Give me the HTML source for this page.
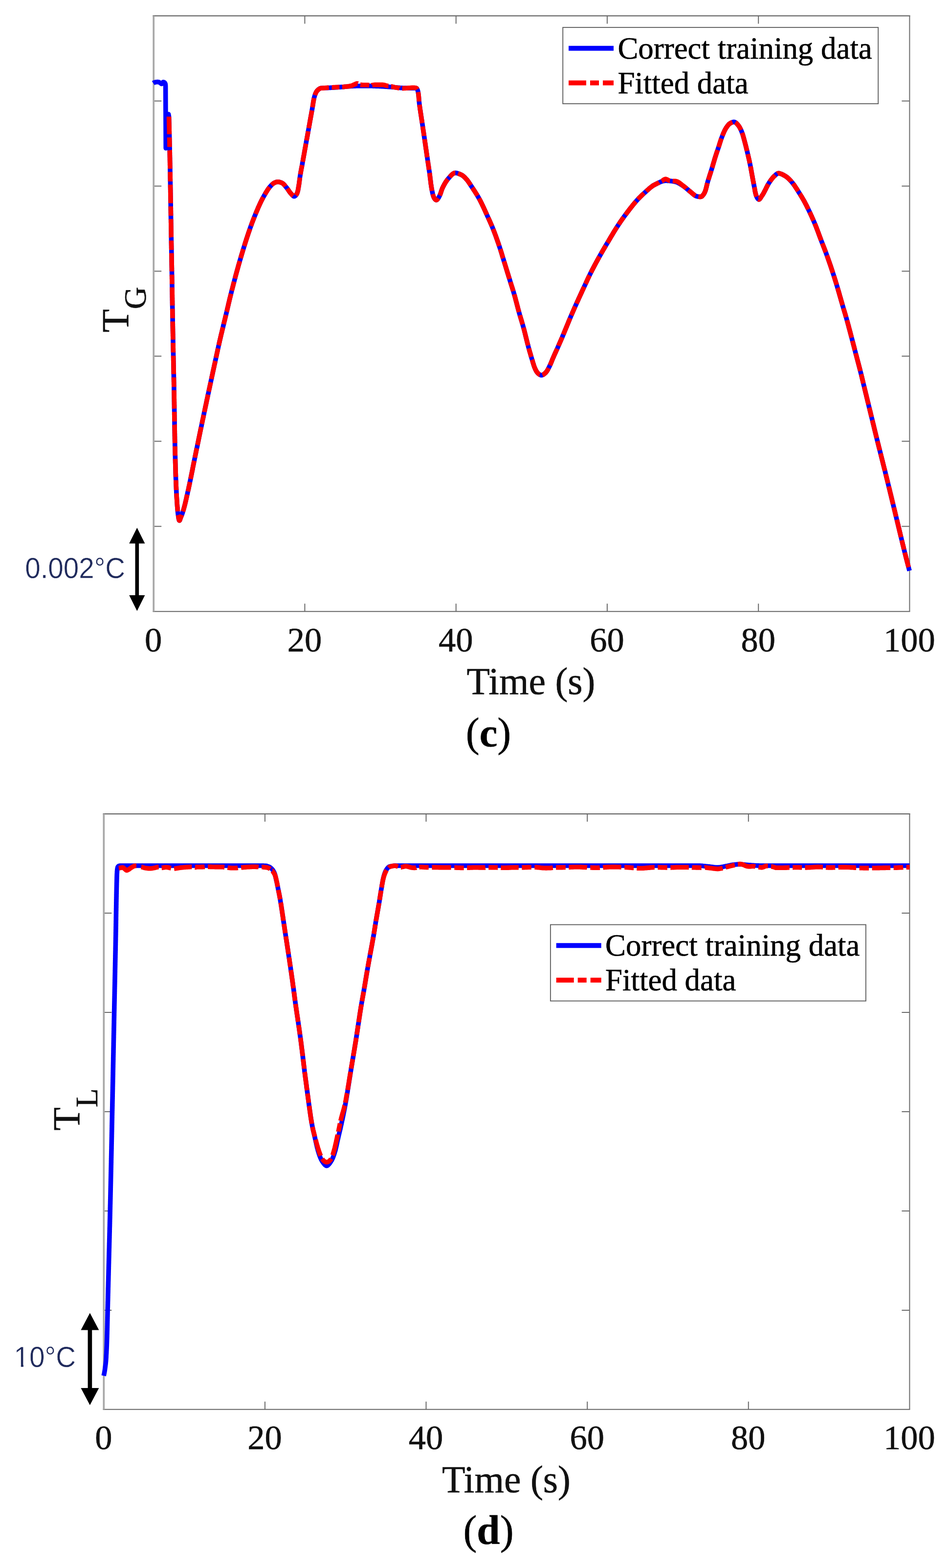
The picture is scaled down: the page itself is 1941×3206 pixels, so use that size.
<!DOCTYPE html>
<html lang="en">
<head>
<meta charset="utf-8">
<title>Figure (c) and (d): correct training data versus fitted data</title>
<style>
html,body{margin:0;padding:0;background:#fff;}
body{width:1941px;height:3206px;overflow:hidden;}
svg{display:block;}
text{font-family:"Liberation Serif","DejaVu Serif",serif;fill:#111;stroke:#111;stroke-width:0.6px;}
.tk{font-size:70.5px;}
.lb{font-size:77.8px;}
.sb{font-size:63px;}
.lg{font-size:62.9px;fill:#000;stroke:#000;}
.an{font-family:"Liberation Sans","DejaVu Sans",sans-serif;font-size:59px;fill:#1f2a5c;stroke:#fff;stroke-width:0.5px;paint-order:fill stroke;}
.cp{font-size:84px;fill:#000;}
.cb{font-weight:bold;font-size:82.5px;}
</style>
</head>
<body>
<svg width="1941" height="3206" viewBox="0 0 1941 3206">
<rect width="1941" height="3206" fill="#fff"/>
<g id="chart-c">
<path d="M623.4 1250.3v-16M623.4 32.4v16M932.7 1250.3v-16M932.7 32.4v16M1241.9 1250.3v-16M1241.9 32.4v16M1551.2 1250.3v-16M1551.2 32.4v16M314.2 1076.3h16M1860.4 1076.3h-16M314.2 902.3h16M1860.4 902.3h-16M314.2 728.3h16M1860.4 728.3h-16M314.2 554.4h16M1860.4 554.4h-16M314.2 380.4h16M1860.4 380.4h-16M314.2 206.4h16M1860.4 206.4h-16" stroke="#6a6a6a" stroke-width="2" fill="none"/>
<path d="M312.4 32.4H1861.6000000000001M312.4 1250.3H1861.4" stroke="#686868" stroke-width="2.1" fill="none"/>
<path d="M314.2 32.4V1250.3" stroke="#a8a8a8" stroke-width="3.7" fill="none"/>
<path d="M1860.4 32.4V1250.3" stroke="#727272" stroke-width="2.1" fill="none"/>
<path d="M313.4 170.0L314.3 169.4L315.3 168.9L316.2 168.5L317.2 168.2L318.2 168.0L319.3 167.8L320.3 167.7L321.4 167.6L322.4 167.5L323.4 167.6L324.5 167.8L325.5 168.2L326.4 168.7L327.4 169.2L328.3 169.9L329.2 170.7L330.0 171.3L330.8 171.5L331.6 171.0L332.2 170.0L332.8 168.8L333.5 168.0L334.4 167.8L335.5 168.2L336.5 168.7L337.0 169.3L337.5 170.0L337.8 170.9L338.2 171.9L338.4 173.0L338.5 174.2L338.6 175.6L339.2 303L344.6 233.5L345.5 238.6L345.5 240.1L345.6 241.6L345.6 243.1L345.7 244.6L345.7 246.1L345.7 247.6L345.8 249.1L345.8 250.6L345.9 252.1L345.9 253.6L345.9 255.1L346.0 256.6L346.0 258.1L346.1 259.6L346.1 261.1L346.1 262.6L346.2 264.1L346.2 265.6L346.2 267.1L346.3 268.6L346.3 270.1L346.3 271.6L346.4 273.1L346.4 274.6L346.5 276.1L346.5 277.6L346.5 279.1L346.6 280.6L346.6 282.1L346.6 283.6L346.7 285.1L346.7 286.6L346.7 288.1L346.8 289.6L346.8 291.1L346.8 292.6L346.9 294.1L346.9 295.6L346.9 297.1L347.0 298.6L347.0 300.1L347.0 301.6L347.1 303.1L347.1 304.6L347.1 306.1L347.2 307.6L347.2 309.1L347.2 310.6L347.3 312.1L347.3 313.6L347.3 315.1L347.3 316.6L347.4 318.1L347.4 319.6L347.4 321.1L347.5 322.6L347.5 324.1L347.5 325.6L347.5 327.1L347.6 328.6L347.6 330.1L347.6 331.6L347.7 333.1L347.7 334.6L347.7 336.1L347.7 337.6L347.8 339.1L347.8 340.6L347.8 342.1L347.9 343.6L347.9 345.1L347.9 346.6L347.9 348.1L348.0 349.6L348.0 351.1L348.0 352.6L348.0 354.1L348.1 355.6L348.1 357.1L348.1 358.6L348.1 360.1L348.2 361.6L348.2 363.1L348.2 364.6L348.3 366.1L348.3 367.6L348.3 369.1L348.3 370.6L348.4 372.1L348.4 373.6L348.4 375.1L348.4 376.6L348.5 378.1L348.5 379.6L348.5 381.1L348.5 382.6L348.6 384.1L348.6 385.6L348.6 387.1L348.7 388.6L348.7 390.1L348.7 391.6L348.7 393.2L348.8 394.7L348.8 396.2L348.8 397.7L348.8 399.2L348.9 400.7L348.9 402.2L348.9 403.7L348.9 405.2L349.0 406.7L349.0 408.2L349.0 409.7L349.0 411.2L349.1 412.7L349.1 414.2L349.1 415.7L349.1 417.2L349.2 418.7L349.2 420.2L349.2 421.7L349.2 423.2L349.3 424.7L349.3 426.2L349.3 427.7L349.3 429.2L349.4 430.7L349.4 432.2L349.4 433.7L349.4 435.2L349.5 436.7L349.5 438.2L349.5 439.7L349.5 441.2L349.5 442.7L349.6 444.2L349.6 445.7L349.6 447.2L349.6 448.7L349.7 450.2L349.7 451.7L349.7 453.2L349.7 454.7L349.8 456.2L349.8 457.7L349.8 459.2L349.8 460.7L349.9 462.2L349.9 463.7L349.9 465.2L349.9 466.7L350.0 468.2L350.0 469.7L350.0 471.2L350.0 472.7L350.1 474.2L350.1 475.7L350.1 477.2L350.1 478.7L350.2 480.2L350.2 481.7L350.2 483.2L350.2 484.7L350.3 486.2L350.3 487.7L350.3 489.2L350.3 490.7L350.4 492.2L350.4 493.7L350.4 495.2L350.4 496.7L350.5 498.2L350.5 499.7L350.5 501.2L350.6 502.7L350.6 504.2L350.6 505.7L350.6 507.2L350.7 508.7L350.7 510.2L350.7 511.7L350.7 513.2L350.8 514.7L350.8 516.2L350.8 517.7L350.8 519.2L350.9 520.7L350.9 522.2L350.9 523.7L351.0 525.2L351.0 526.7L351.0 528.2L351.0 529.7L351.1 531.2L351.1 532.7L351.1 534.2L351.1 535.7L351.2 537.2L351.2 538.7L351.2 540.2L351.2 541.7L351.3 543.2L351.3 544.7L351.3 546.2L351.4 547.7L351.4 549.2L351.4 550.7L351.4 552.2L351.5 553.7L351.5 555.2L351.5 556.7L351.5 558.2L351.6 559.7L351.6 561.2L351.6 562.7L351.6 564.2L351.7 565.7L351.7 567.2L351.7 568.7L351.7 570.2L351.8 571.7L351.8 573.2L351.8 574.7L351.8 576.2L351.9 577.7L351.9 579.2L351.9 580.7L351.9 582.2L352.0 583.7L352.0 585.2L352.0 586.7L352.0 588.2L352.1 589.7L352.1 591.2L352.1 592.7L352.1 594.2L352.1 595.7L352.2 597.2L352.2 598.7L352.2 600.2L352.2 601.7L352.3 603.2L352.3 604.7L352.3 606.2L352.3 607.7L352.4 609.2L352.4 610.7L352.4 612.2L352.4 613.7L352.5 615.2L352.5 616.7L352.5 618.2L352.5 619.7L352.6 621.2L352.6 622.7L352.6 624.2L352.6 625.7L352.6 627.2L352.7 628.7L352.7 630.2L352.7 631.7L352.7 633.2L352.8 634.7L352.8 636.2L352.8 637.8L352.8 639.3L352.9 640.8L352.9 642.3L352.9 643.8L353.0 645.3L353.0 646.8L353.0 648.3L353.0 649.8L353.1 651.3L353.1 652.8L353.1 654.3L353.1 655.8L353.2 657.3L353.2 658.8L353.2 660.3L353.3 661.8L353.3 663.3L353.3 664.8L353.3 666.3L353.4 667.8L353.4 669.3L353.4 670.8L353.5 672.3L353.5 673.8L353.5 675.3L353.5 676.8L353.6 678.3L353.6 679.8L353.6 681.3L353.7 682.8L353.7 684.3L353.7 685.8L353.7 687.3L353.8 688.8L353.8 690.3L353.8 691.8L353.9 693.3L353.9 694.8L353.9 696.3L354.0 697.8L354.0 699.3L354.0 700.8L354.0 702.3L354.1 703.8L354.1 705.3L354.1 706.8L354.2 708.3L354.2 709.8L354.2 711.3L354.3 712.8L354.3 714.3L354.3 715.8L354.3 717.3L354.4 718.8L354.4 720.3L354.4 721.8L354.5 723.3L354.5 724.8L354.5 726.3L354.6 727.8L354.6 729.3L354.6 730.8L354.7 732.3L354.7 733.8L354.7 735.3L354.7 736.8L354.8 738.3L354.8 739.8L354.8 741.3L354.9 742.8L354.9 744.3L354.9 745.8L355.0 747.3L355.0 748.8L355.0 750.3L355.1 751.8L355.1 753.3L355.1 754.8L355.2 756.3L355.2 757.8L355.2 759.3L355.2 760.8L355.3 762.3L355.3 763.8L355.3 765.3L355.4 766.8L355.4 768.3L355.4 769.8L355.5 771.3L355.5 772.8L355.5 774.3L355.5 775.8L355.6 777.3L355.6 778.8L355.6 780.3L355.7 781.8L355.7 783.3L355.7 784.8L355.7 786.3L355.8 787.8L355.8 789.3L355.8 790.8L355.9 792.3L355.9 793.8L355.9 795.3L355.9 796.8L356.0 798.3L356.0 799.8L356.0 801.3L356.0 802.8L356.1 804.3L356.1 805.8L356.1 807.3L356.2 808.8L356.2 810.3L356.2 811.8L356.2 813.3L356.2 814.8L356.3 816.3L356.3 817.8L356.3 819.3L356.3 820.8L356.4 822.3L356.4 823.8L356.4 825.3L356.4 826.8L356.5 828.3L356.5 829.8L356.5 831.3L356.5 832.8L356.5 834.3L356.6 835.8L356.6 837.3L356.6 838.8L356.6 840.3L356.7 841.8L356.7 843.3L356.7 844.8L356.7 846.3L356.7 847.8L356.8 849.3L356.8 850.8L356.8 852.3L356.8 853.8L356.9 855.3L356.9 856.8L356.9 858.3L356.9 859.8L356.9 861.3L357.0 862.8L357.0 864.3L357.0 865.8L357.0 867.3L357.1 868.8L357.1 870.3L357.1 871.8L357.1 873.3L357.2 874.8L357.2 876.3L357.2 877.8L357.2 879.3L357.3 880.8L357.3 882.3L357.3 883.8L357.3 885.3L357.4 886.8L357.4 888.3L357.4 889.8L357.4 891.3L357.5 892.8L357.5 894.3L357.5 895.8L357.5 897.3L357.6 898.9L357.6 900.4L357.6 901.9L357.7 903.4L357.7 904.9L357.7 906.4L357.8 907.9L357.8 909.4L357.8 910.9L357.9 912.4L357.9 913.9L357.9 915.4L358.0 916.9L358.0 918.4L358.0 919.9L358.1 921.4L358.1 922.9L358.1 924.4L358.2 925.9L358.2 927.4L358.2 928.9L358.3 930.4L358.3 931.9L358.3 933.4L358.4 934.9L358.4 936.4L358.4 937.9L358.5 939.4L358.5 940.9L358.6 942.4L358.6 943.9L358.6 945.4L358.7 946.9L358.7 948.4L358.8 949.9L358.8 951.4L358.8 952.9L358.9 954.4L358.9 955.9L359.0 957.4L359.0 958.9L359.1 960.4L359.1 961.9L359.2 963.4L359.2 964.9L359.2 966.4L359.3 967.9L359.3 969.4L359.4 970.9L359.4 972.4L359.5 973.9L359.5 975.4L359.6 976.9L359.6 978.4L359.7 979.9L359.8 981.4L359.8 982.9L359.9 984.4L359.9 985.9L360.0 987.4L360.0 988.9L360.1 990.4L360.2 991.9L360.2 993.4L360.3 994.9L360.4 996.4L360.4 997.9L360.5 999.4L360.6 1000.9L360.6 1002.4L360.7 1003.9L360.8 1005.4L360.8 1006.9L360.9 1008.4L361.0 1009.9L361.1 1011.4L361.1 1012.9L361.2 1014.4L361.3 1015.8L361.4 1017.3L361.5 1018.8L361.6 1020.3L361.7 1021.8L361.8 1023.3L361.9 1024.8L362.0 1026.3L362.1 1027.8L362.2 1029.3L362.3 1030.8L362.4 1032.3L362.5 1033.8L362.6 1035.3L362.8 1036.8L362.9 1038.3L363.0 1039.8L363.1 1041.3L363.3 1042.8L363.4 1044.3L363.5 1045.8L363.7 1047.3L363.8 1048.8L364.0 1050.3L364.2 1051.8L364.4 1053.2L364.6 1054.8L364.9 1056.5L365.2 1058.5L365.5 1060.4L365.9 1062.1L366.3 1063.5L366.7 1064.3L367.1 1064.4L367.7 1063.6L368.3 1062.1L368.9 1060.3L369.5 1058.6L370.0 1057.2L370.6 1055.8L371.2 1054.4L371.8 1053.0L372.3 1051.6L372.8 1050.2L373.3 1048.8L373.8 1047.3L374.2 1045.9L374.6 1044.5L375.1 1043.1L375.5 1041.6L375.9 1040.2L376.3 1038.7L376.7 1037.3L377.1 1035.8L377.5 1034.4L377.8 1032.9L378.2 1031.5L378.6 1030.0L378.9 1028.6L379.3 1027.1L379.6 1025.6L380.0 1024.2L380.3 1022.7L380.6 1021.2L381.0 1019.8L381.3 1018.3L381.6 1016.8L382.0 1015.4L382.3 1013.9L382.6 1012.4L383.0 1011.0L383.3 1009.5L383.6 1008.0L383.9 1006.6L384.3 1005.1L384.6 1003.6L384.9 1002.2L385.3 1000.7L385.6 999.2L385.9 997.8L386.2 996.3L386.5 994.8L386.9 993.4L387.2 991.9L387.5 990.4L387.8 989.0L388.1 987.5L388.4 986.0L388.7 984.6L389.0 983.1L389.3 981.6L389.6 980.2L389.9 978.7L390.2 977.2L390.5 975.7L390.8 974.3L391.1 972.8L391.4 971.3L391.7 969.9L392.0 968.4L392.3 966.9L392.6 965.4L392.9 964.0L393.2 962.5L393.5 961.0L393.8 959.5L394.1 958.1L394.3 956.6L394.6 955.1L394.9 953.7L395.2 952.2L395.5 950.7L395.8 949.2L396.1 947.8L396.4 946.3L396.7 944.8L397.0 943.4L397.3 941.9L397.6 940.4L397.9 938.9L398.2 937.5L398.5 936.0L398.8 934.5L399.1 933.1L399.4 931.6L399.7 930.1L400.0 928.7L400.3 927.2L400.6 925.7L400.9 924.2L401.2 922.8L401.5 921.3L401.8 919.8L402.1 918.4L402.4 916.9L402.8 915.4L403.1 914.0L403.4 912.5L403.7 911.0L404.0 909.5L404.3 908.1L404.6 906.6L404.9 905.1L405.2 903.7L405.5 902.2L405.8 900.7L406.1 899.3L406.4 897.8L406.7 896.3L407.0 894.8L407.3 893.4L407.6 891.9L407.9 890.4L408.2 889.0L408.5 887.5L408.8 886.0L409.1 884.6L409.4 883.1L409.7 881.6L410.0 880.2L410.3 878.7L410.6 877.2L410.9 875.7L411.3 874.3L411.6 872.8L411.9 871.3L412.2 869.9L412.5 868.4L412.8 866.9L413.1 865.5L413.4 864.0L413.7 862.5L414.0 861.1L414.3 859.6L414.6 858.1L414.9 856.6L415.3 855.2L415.6 853.7L415.9 852.2L416.2 850.8L416.5 849.3L416.8 847.8L417.1 846.4L417.4 844.9L417.7 843.4L418.0 842.0L418.4 840.5L418.7 839.0L419.0 837.6L419.3 836.1L419.6 834.6L419.9 833.2L420.2 831.7L420.5 830.2L420.8 828.7L421.2 827.3L421.5 825.8L421.8 824.3L422.1 822.9L422.4 821.4L422.7 819.9L423.0 818.5L423.3 817.0L423.7 815.5L424.0 814.1L424.3 812.6L424.6 811.1L424.9 809.7L425.2 808.2L425.5 806.7L425.8 805.3L426.2 803.8L426.5 802.3L426.8 800.9L427.1 799.4L427.4 797.9L427.7 796.5L428.0 795.0L428.4 793.5L428.7 792.1L429.0 790.6L429.3 789.1L429.6 787.7L429.9 786.2L430.3 784.7L430.6 783.3L430.9 781.8L431.2 780.3L431.5 778.8L431.8 777.4L432.2 775.9L432.5 774.4L432.8 773.0L433.1 771.5L433.4 770.0L433.7 768.6L434.1 767.1L434.4 765.6L434.7 764.2L435.0 762.7L435.3 761.2L435.6 759.8L436.0 758.3L436.3 756.8L436.6 755.4L436.9 753.9L437.2 752.4L437.6 751.0L437.9 749.5L438.2 748.0L438.5 746.6L438.8 745.1L439.2 743.6L439.5 742.2L439.8 740.7L440.1 739.2L440.4 737.8L440.7 736.3L441.1 734.8L441.4 733.4L441.7 731.9L442.0 730.4L442.3 729.0L442.7 727.5L443.0 726.0L443.3 724.6L443.6 723.1L443.9 721.6L444.2 720.2L444.6 718.7L444.9 717.2L445.2 715.8L445.5 714.3L445.8 712.8L446.2 711.4L446.5 709.9L446.8 708.4L447.1 707.0L447.5 705.5L447.8 704.1L448.1 702.6L448.4 701.1L448.8 699.7L449.1 698.2L449.4 696.7L449.8 695.3L450.1 693.8L450.5 692.4L450.8 690.9L451.1 689.4L451.5 688.0L451.8 686.5L452.2 685.0L452.5 683.6L452.9 682.1L453.2 680.7L453.6 679.2L453.9 677.7L454.3 676.3L454.6 674.8L455.0 673.4L455.3 671.9L455.7 670.4L456.0 669.0L456.4 667.5L456.7 666.1L457.1 664.6L457.4 663.2L457.8 661.7L458.1 660.2L458.5 658.8L458.8 657.3L459.2 655.9L459.6 654.4L459.9 652.9L460.3 651.5L460.6 650.0L461.0 648.6L461.3 647.1L461.7 645.6L462.0 644.2L462.4 642.7L462.7 641.3L463.1 639.8L463.4 638.4L463.8 636.9L464.1 635.4L464.5 634.0L464.8 632.5L465.1 631.0L465.5 629.6L465.8 628.1L466.2 626.7L466.5 625.2L466.9 623.7L467.2 622.3L467.5 620.8L467.9 619.4L468.2 617.9L468.6 616.4L468.9 615.0L469.3 613.5L469.6 612.1L470.0 610.6L470.3 609.1L470.7 607.7L471.1 606.2L471.4 604.8L471.8 603.3L472.1 601.9L472.5 600.4L472.9 598.9L473.2 597.5L473.6 596.0L474.0 594.6L474.3 593.1L474.7 591.7L475.1 590.2L475.5 588.8L475.8 587.3L476.2 585.9L476.6 584.4L477.0 583.0L477.3 581.5L477.7 580.0L478.1 578.6L478.5 577.1L478.9 575.7L479.2 574.2L479.6 572.8L480.0 571.3L480.4 569.9L480.8 568.4L481.2 567.0L481.5 565.5L481.9 564.1L482.3 562.6L482.7 561.2L483.1 559.7L483.5 558.3L483.9 556.8L484.3 555.4L484.7 553.9L485.1 552.5L485.5 551.0L485.9 549.6L486.3 548.2L486.7 546.7L487.1 545.3L487.5 543.8L487.9 542.4L488.3 540.9L488.7 539.5L489.2 538.0L489.6 536.6L490.0 535.2L490.4 533.7L490.8 532.3L491.2 530.8L491.7 529.4L492.1 528.0L492.5 526.5L492.9 525.1L493.4 523.6L493.8 522.2L494.2 520.8L494.6 519.3L495.1 517.9L495.5 516.5L495.9 515.0L496.4 513.6L496.8 512.1L497.2 510.7L497.7 509.3L498.1 507.8L498.6 506.4L499.0 505.0L499.4 503.5L499.9 502.1L500.3 500.7L500.8 499.2L501.2 497.8L501.7 496.4L502.1 494.9L502.6 493.5L503.1 492.1L503.5 490.6L504.0 489.2L504.4 487.8L504.9 486.4L505.4 484.9L505.8 483.5L506.3 482.1L506.8 480.7L507.3 479.2L507.7 477.8L508.2 476.4L508.7 475.0L509.2 473.5L509.7 472.1L510.2 470.7L510.7 469.3L511.1 467.9L511.6 466.5L512.1 465.0L512.6 463.6L513.1 462.2L513.7 460.8L514.2 459.4L514.7 458.0L515.2 456.6L515.7 455.2L516.3 453.8L516.8 452.4L517.3 451.0L517.9 449.6L518.4 448.2L519.0 446.8L519.5 445.4L520.1 444.0L520.6 442.6L521.2 441.2L521.8 439.8L522.3 438.4L522.9 437.0L523.5 435.6L524.0 434.2L524.6 432.9L525.2 431.5L525.8 430.1L526.4 428.7L527.0 427.3L527.5 425.9L528.1 424.6L528.7 423.2L529.4 421.8L530.0 420.4L530.6 419.1L531.2 417.7L531.8 416.4L532.5 415.0L533.1 413.6L533.8 412.3L534.4 411.0L535.1 409.6L535.8 408.3L536.5 406.9L537.2 405.6L537.9 404.3L538.6 403.0L539.3 401.6L540.1 400.4L540.8 399.1L541.6 397.7L542.4 396.4L543.1 395.1L543.9 393.8L544.7 392.5L545.5 391.2L546.3 389.9L547.1 388.6L547.9 387.4L548.8 386.2L549.7 384.9L550.6 383.7L551.5 382.6L552.4 381.5L553.4 380.4L554.4 379.3L555.5 378.2L556.6 377.1L557.8 376.1L559.0 375.1L560.2 374.3L561.5 373.7L562.8 373.1L564.3 372.5L565.8 372.1L567.3 371.8L568.7 371.8L570.2 372.0L571.8 372.3L573.3 372.7L574.7 373.2L576.0 373.7L577.3 374.3L578.4 375.1L579.6 376.0L580.6 377.1L581.7 378.2L582.7 379.5L583.7 380.7L584.7 381.9L585.7 383.1L586.6 384.3L587.6 385.4L588.4 386.7L589.3 387.9L590.1 389.2L591.0 390.4L591.8 391.7L592.7 392.9L593.6 394.1L594.6 395.2L595.6 396.3L596.7 397.6L597.9 398.9L599.1 400.1L600.2 401.0L601.4 401.5L602.5 401.4L603.7 400.7L604.9 399.5L606.0 398.1L606.9 396.7L607.6 395.4L608.0 394.1L608.5 392.7L608.9 391.3L609.2 389.9L609.6 388.4L609.8 386.8L610.1 385.3L610.4 383.8L610.6 382.2L610.9 380.7L611.1 379.2L611.4 377.8L611.6 376.3L611.8 374.8L612.0 373.3L612.2 371.8L612.4 370.3L612.6 368.8L612.8 367.3L613.0 365.9L613.2 364.4L613.4 362.9L613.6 361.4L613.8 359.9L614.1 358.4L614.3 357.0L614.5 355.5L614.8 354.0L615.1 352.5L615.3 351.0L615.6 349.6L615.9 348.1L616.2 346.6L616.4 345.1L616.7 343.7L617.0 342.2L617.3 340.7L617.6 339.2L617.8 337.8L618.1 336.3L618.4 334.8L618.6 333.3L618.9 331.9L619.2 330.4L619.4 328.9L619.7 327.4L620.0 325.9L620.2 324.5L620.5 323.0L620.8 321.5L621.0 320.0L621.3 318.6L621.6 317.1L621.8 315.6L622.1 314.1L622.4 312.7L622.6 311.2L622.9 309.7L623.2 308.2L623.4 306.7L623.7 305.3L624.0 303.8L624.2 302.3L624.5 300.8L624.8 299.4L625.0 297.9L625.3 296.4L625.5 294.9L625.8 293.4L626.1 292.0L626.3 290.5L626.6 289.0L626.9 287.5L627.1 286.1L627.4 284.6L627.7 283.1L628.0 281.6L628.2 280.2L628.5 278.7L628.8 277.2L629.0 275.7L629.3 274.3L629.6 272.8L629.8 271.3L630.1 269.8L630.4 268.3L630.6 266.9L630.9 265.4L631.2 263.9L631.4 262.4L631.7 261.0L632.0 259.5L632.2 258.0L632.5 256.5L632.8 255.0L633.0 253.6L633.3 252.1L633.5 250.6L633.8 249.1L634.1 247.7L634.3 246.2L634.6 244.7L634.9 243.2L635.1 241.8L635.4 240.3L635.7 238.8L635.9 237.3L636.2 235.8L636.5 234.4L636.7 232.9L637.0 231.4L637.3 229.9L637.5 228.5L637.8 227.0L638.0 225.5L638.3 224.0L638.6 222.6L638.8 221.1L639.1 219.6L639.3 218.1L639.6 216.6L639.8 215.1L640.0 213.6L640.3 212.1L640.5 210.6L640.7 209.1L641.0 207.6L641.2 206.2L641.5 204.7L641.8 203.2L642.1 201.8L642.4 200.3L642.8 198.9L643.2 197.5L643.6 196.0L644.1 194.5L644.6 193.1L645.2 191.6L645.8 190.2L646.5 188.8L647.2 187.5L648.0 186.3L648.9 185.3L649.9 184.2L651.1 183.1L652.3 182.1L653.7 181.3L655.1 180.6L656.5 180.3L657.8 180.2L659.2 180.1L660.7 180.0L662.1 179.9L663.6 179.8L665.1 179.8L666.7 179.7L668.2 179.7L669.8 179.6L671.3 179.6L672.9 179.5L674.4 179.5L675.9 179.4L677.4 179.3L678.9 179.2L680.4 179.2L681.9 179.1L683.4 179.0L684.9 178.9L686.4 178.8L687.9 178.7L689.4 178.6L690.9 178.5L692.4 178.3L693.9 178.2L695.4 178.1L696.9 178.0L698.4 177.9L699.9 177.8L701.4 177.7L702.9 177.6L704.4 177.5L705.9 177.3L707.4 177.2L708.9 177.1L710.4 176.9L711.9 176.8L713.4 176.7L714.9 176.5L716.4 176.4L717.9 176.3L719.4 176.2L720.9 176.1L722.4 176.0L723.9 176.0L725.4 175.9L726.9 175.9L728.4 175.8L729.9 175.8L731.4 175.8L732.9 175.8L734.4 175.7L735.9 175.7L737.4 175.7L738.9 175.7L740.4 175.6L741.9 175.6L743.4 175.6L744.9 175.6L746.4 175.6L747.9 175.6L749.4 175.6L750.9 175.6L752.4 175.6L753.9 175.6L755.4 175.7L756.9 175.7L758.4 175.7L759.9 175.8L761.4 175.8L762.9 175.9L764.4 175.9L765.9 176.0L767.4 176.0L768.9 176.1L770.4 176.1L771.9 176.2L773.4 176.2L774.9 176.3L776.4 176.4L777.9 176.4L779.4 176.5L780.9 176.6L782.4 176.7L783.9 176.8L785.4 176.9L786.9 177.0L788.4 177.1L789.9 177.2L791.3 177.3L792.8 177.4L794.3 177.5L795.8 177.6L797.3 177.7L798.8 177.8L800.3 177.9L801.8 178.0L803.3 178.2L804.8 178.3L806.3 178.4L807.8 178.6L809.3 178.7L810.8 178.9L812.3 179.0L813.8 179.2L815.3 179.3L816.8 179.4L818.3 179.6L819.8 179.7L821.3 179.8L822.8 179.9L824.3 180.0L825.8 180.0L827.3 180.1L828.8 180.1L830.3 180.1L831.8 180.2L833.3 180.2L834.8 180.2L836.3 180.2L837.8 180.3L839.3 180.3L840.8 180.3L842.3 180.3L843.8 180.3L845.3 180.3L847.0 180.2L848.6 180.1L850.0 180.0L851.1 180.0L852.1 180.6L853.0 181.9L853.8 183.5L854.4 185.2L854.9 186.8L855.2 188.2L855.4 189.6L855.6 191.1L855.8 192.5L856.0 194.0L856.2 195.5L856.3 197.0L856.5 198.5L856.6 200.0L856.7 201.6L856.8 203.1L856.9 204.6L857.1 206.1L857.2 207.7L857.4 209.2L857.5 210.7L857.7 212.2L857.9 213.7L858.1 215.1L858.3 216.6L858.5 218.1L858.7 219.6L858.9 221.1L859.1 222.6L859.3 224.1L859.6 225.5L859.8 227.0L860.0 228.5L860.2 230.0L860.5 231.5L860.7 233.0L860.9 234.4L861.1 235.9L861.4 237.4L861.6 238.9L861.8 240.4L862.0 241.9L862.3 243.3L862.5 244.8L862.7 246.3L863.0 247.8L863.2 249.3L863.4 250.8L863.6 252.3L863.9 253.7L864.1 255.2L864.3 256.7L864.5 258.2L864.7 259.7L864.9 261.2L865.2 262.6L865.4 264.1L865.6 265.6L865.8 267.1L866.0 268.6L866.3 270.1L866.5 271.6L866.7 273.0L866.9 274.5L867.1 276.0L867.4 277.5L867.6 279.0L867.8 280.5L868.0 281.9L868.2 283.4L868.4 284.9L868.7 286.4L868.9 287.9L869.1 289.4L869.3 290.9L869.5 292.3L869.7 293.8L870.0 295.3L870.2 296.8L870.4 298.3L870.6 299.8L870.8 301.3L871.0 302.7L871.2 304.2L871.5 305.7L871.7 307.2L871.9 308.7L872.1 310.2L872.3 311.7L872.5 313.1L872.8 314.6L873.0 316.1L873.2 317.6L873.4 319.1L873.6 320.6L873.9 322.0L874.1 323.5L874.3 325.0L874.5 326.5L874.7 328.0L874.9 329.5L875.2 331.0L875.4 332.4L875.6 333.9L875.8 335.4L876.1 336.9L876.3 338.4L876.5 339.9L876.7 341.3L876.9 342.8L877.2 344.3L877.4 345.8L877.6 347.3L877.8 348.8L878.0 350.3L878.3 351.7L878.5 353.2L878.7 354.7L878.9 356.2L879.1 357.7L879.3 359.2L879.5 360.7L879.6 362.2L879.8 363.7L880.0 365.2L880.2 366.7L880.4 368.2L880.6 369.7L880.8 371.2L880.9 372.7L881.1 374.2L881.3 375.6L881.5 377.1L881.8 378.6L882.0 380.1L882.2 381.6L882.4 383.1L882.7 384.5L882.9 386.0L883.2 387.5L883.5 389.0L883.7 390.4L884.0 391.9L884.4 393.3L884.7 394.8L885.0 396.3L885.4 397.8L885.8 399.3L886.3 400.8L886.8 402.2L887.4 403.6L888.0 404.9L888.8 406.0L889.8 407.4L891.1 408.5L892.3 409.0L893.4 408.7L894.4 407.8L895.5 406.5L896.5 405.0L897.4 403.6L898.1 402.3L898.8 401.0L899.4 399.7L900.0 398.3L900.6 396.9L901.1 395.5L901.6 394.1L902.1 392.6L902.5 391.1L903.0 389.7L903.5 388.2L904.0 386.8L904.6 385.4L905.2 384.0L905.8 382.7L906.5 381.4L907.2 380.0L907.9 378.7L908.6 377.4L909.4 376.0L910.1 374.7L910.9 373.4L911.8 372.1L912.6 370.8L913.5 369.6L914.3 368.4L915.2 367.2L916.2 366.0L917.1 364.9L918.1 363.8L919.1 362.7L920.1 361.5L921.2 360.2L922.3 359.0L923.5 357.7L924.7 356.6L925.9 355.6L927.2 354.7L928.4 354.1L929.7 353.7L931.0 353.5L932.3 353.6L933.7 353.8L935.2 354.1L936.7 354.6L938.2 355.1L939.7 355.7L941.2 356.3L942.5 356.9L943.8 357.5L945.1 358.2L946.3 359.1L947.5 360.0L948.7 361.0L949.8 362.0L950.9 363.1L952.0 364.3L953.0 365.4L954.0 366.5L955.0 367.6L955.9 368.7L956.8 369.9L957.7 371.1L958.6 372.4L959.4 373.6L960.3 374.9L961.1 376.1L961.9 377.4L962.7 378.7L963.5 380.0L964.4 381.2L965.2 382.5L966.0 383.7L966.9 385.0L967.7 386.2L968.5 387.5L969.3 388.7L970.2 390.0L971.0 391.2L971.8 392.5L972.6 393.8L973.4 395.1L974.2 396.3L975.0 397.6L975.8 398.9L976.6 400.2L977.3 401.5L978.1 402.8L978.8 404.1L979.6 405.4L980.3 406.7L981.0 408.0L981.7 409.3L982.4 410.6L983.1 412.0L983.7 413.3L984.4 414.6L985.1 416.0L985.7 417.3L986.4 418.7L987.0 420.0L987.7 421.4L988.3 422.7L989.0 424.1L989.6 425.5L990.2 426.8L990.8 428.2L991.5 429.6L992.1 431.0L992.7 432.3L993.3 433.7L993.9 435.1L994.6 436.4L995.2 437.8L995.8 439.2L996.4 440.5L997.0 441.9L997.7 443.3L998.3 444.6L998.9 446.0L999.5 447.4L1000.2 448.7L1000.8 450.1L1001.4 451.5L1002.0 452.8L1002.6 454.2L1003.2 455.6L1003.8 457.0L1004.4 458.3L1005.0 459.7L1005.6 461.1L1006.2 462.5L1006.8 463.9L1007.3 465.2L1007.9 466.6L1008.4 468.0L1009.0 469.4L1009.5 470.8L1010.1 472.2L1010.6 473.6L1011.2 475.0L1011.7 476.4L1012.2 477.8L1012.7 479.2L1013.3 480.6L1013.8 482.1L1014.3 483.5L1014.8 484.9L1015.3 486.3L1015.8 487.7L1016.3 489.1L1016.8 490.5L1017.3 492.0L1017.8 493.4L1018.3 494.8L1018.8 496.2L1019.3 497.6L1019.8 499.1L1020.2 500.5L1020.7 501.9L1021.2 503.3L1021.7 504.7L1022.2 506.2L1022.6 507.6L1023.1 509.0L1023.6 510.4L1024.0 511.9L1024.5 513.3L1024.9 514.7L1025.4 516.2L1025.8 517.6L1026.2 519.0L1026.7 520.5L1027.1 521.9L1027.5 523.4L1028.0 524.8L1028.4 526.2L1028.8 527.7L1029.3 529.1L1029.7 530.5L1030.2 532.0L1030.6 533.4L1031.1 534.8L1031.5 536.3L1031.9 537.7L1032.4 539.1L1032.8 540.6L1033.3 542.0L1033.7 543.4L1034.2 544.9L1034.6 546.3L1035.0 547.7L1035.5 549.2L1035.9 550.6L1036.4 552.0L1036.8 553.5L1037.2 554.9L1037.7 556.3L1038.1 557.8L1038.6 559.2L1039.0 560.7L1039.5 562.1L1039.9 563.5L1040.3 565.0L1040.8 566.4L1041.2 567.8L1041.7 569.3L1042.1 570.7L1042.6 572.1L1043.0 573.6L1043.4 575.0L1043.9 576.4L1044.3 577.9L1044.8 579.3L1045.2 580.7L1045.7 582.2L1046.1 583.6L1046.6 585.0L1047.1 586.4L1047.5 587.9L1048.0 589.3L1048.4 590.7L1048.8 592.2L1049.3 593.6L1049.7 595.0L1050.2 596.5L1050.6 597.9L1051.0 599.4L1051.4 600.8L1051.8 602.2L1052.3 603.7L1052.7 605.1L1053.1 606.6L1053.5 608.0L1053.9 609.5L1054.3 610.9L1054.6 612.4L1055.0 613.8L1055.4 615.3L1055.8 616.7L1056.2 618.2L1056.6 619.6L1057.0 621.1L1057.3 622.5L1057.7 624.0L1058.1 625.4L1058.5 626.9L1058.9 628.3L1059.2 629.8L1059.6 631.2L1060.0 632.7L1060.4 634.1L1060.8 635.6L1061.2 637.0L1061.6 638.5L1062.0 639.9L1062.4 641.4L1062.8 642.8L1063.2 644.2L1063.6 645.7L1064.1 647.1L1064.5 648.6L1064.9 650.0L1065.4 651.4L1065.8 652.9L1066.2 654.3L1066.7 655.8L1067.1 657.2L1067.5 658.6L1067.9 660.1L1068.4 661.5L1068.8 663.0L1069.2 664.4L1069.6 665.8L1070.0 667.3L1070.4 668.7L1070.8 670.2L1071.2 671.6L1071.6 673.1L1072.0 674.5L1072.4 676.0L1072.7 677.4L1073.1 678.9L1073.5 680.3L1073.8 681.8L1074.2 683.3L1074.6 684.7L1074.9 686.2L1075.3 687.6L1075.6 689.1L1076.0 690.5L1076.4 692.0L1076.7 693.5L1077.1 694.9L1077.4 696.4L1077.8 697.8L1078.2 699.3L1078.5 700.7L1078.9 702.2L1079.3 703.6L1079.7 705.1L1080.1 706.5L1080.4 708.0L1080.8 709.4L1081.2 710.9L1081.6 712.3L1082.0 713.8L1082.4 715.2L1082.8 716.7L1083.2 718.1L1083.6 719.6L1084.1 721.0L1084.5 722.5L1084.9 723.9L1085.3 725.3L1085.7 726.8L1086.1 728.2L1086.6 729.7L1087.0 731.1L1087.4 732.5L1087.9 734.0L1088.3 735.4L1088.8 736.8L1089.2 738.3L1089.6 739.7L1090.0 741.2L1090.5 742.7L1090.9 744.1L1091.4 745.6L1091.8 747.0L1092.3 748.4L1092.8 749.8L1093.3 751.2L1093.9 752.6L1094.5 753.9L1095.1 755.3L1095.8 756.6L1096.5 758.0L1097.3 759.4L1098.2 760.7L1099.1 761.9L1100.0 763.0L1101.1 764.0L1102.2 764.9L1103.5 765.8L1105.0 766.5L1106.4 767.1L1107.8 767.2L1109.1 766.9L1110.5 766.3L1111.9 765.5L1113.2 764.5L1114.4 763.5L1115.5 762.5L1116.5 761.5L1117.4 760.4L1118.3 759.2L1119.1 757.9L1119.9 756.6L1120.6 755.3L1121.4 753.9L1122.1 752.5L1122.8 751.1L1123.5 749.8L1124.1 748.4L1124.8 747.1L1125.4 745.7L1126.0 744.4L1126.6 743.0L1127.2 741.6L1127.8 740.2L1128.3 738.8L1128.9 737.4L1129.4 736.0L1130.0 734.6L1130.6 733.2L1131.2 731.8L1131.8 730.5L1132.4 729.1L1133.0 727.7L1133.6 726.3L1134.2 725.0L1134.8 723.6L1135.4 722.2L1136.1 720.9L1136.7 719.5L1137.3 718.1L1137.9 716.8L1138.6 715.4L1139.2 714.0L1139.8 712.7L1140.4 711.3L1141.0 709.9L1141.6 708.6L1142.2 707.2L1142.8 705.8L1143.4 704.4L1144.0 703.1L1144.6 701.7L1145.2 700.3L1145.8 698.9L1146.4 697.6L1147.0 696.2L1147.6 694.8L1148.2 693.4L1148.8 692.0L1149.4 690.7L1150.0 689.3L1150.5 687.9L1151.1 686.5L1151.7 685.1L1152.3 683.7L1152.9 682.4L1153.4 681.0L1154.0 679.6L1154.6 678.2L1155.2 676.8L1155.7 675.4L1156.3 674.0L1156.9 672.7L1157.4 671.3L1158.0 669.9L1158.6 668.5L1159.2 667.1L1159.7 665.7L1160.3 664.3L1160.9 662.9L1161.4 661.5L1162.0 660.2L1162.6 658.8L1163.1 657.4L1163.7 656.0L1164.3 654.6L1164.9 653.2L1165.5 651.8L1166.0 650.5L1166.6 649.1L1167.2 647.7L1167.8 646.3L1168.4 644.9L1169.0 643.6L1169.6 642.2L1170.2 640.8L1170.8 639.4L1171.4 638.0L1172.0 636.7L1172.6 635.3L1173.2 633.9L1173.8 632.6L1174.4 631.2L1175.0 629.8L1175.6 628.4L1176.2 627.1L1176.8 625.7L1177.4 624.3L1178.1 622.9L1178.7 621.6L1179.3 620.2L1179.9 618.8L1180.5 617.5L1181.1 616.1L1181.8 614.7L1182.4 613.4L1183.0 612.0L1183.6 610.6L1184.2 609.3L1184.9 607.9L1185.5 606.5L1186.1 605.2L1186.7 603.8L1187.4 602.5L1188.0 601.1L1188.6 599.7L1189.3 598.4L1189.9 597.0L1190.5 595.6L1191.1 594.3L1191.8 592.9L1192.4 591.6L1193.0 590.2L1193.7 588.8L1194.3 587.5L1194.9 586.1L1195.6 584.7L1196.2 583.4L1196.8 582.0L1197.5 580.7L1198.1 579.3L1198.7 577.9L1199.3 576.6L1200.0 575.2L1200.6 573.8L1201.2 572.5L1201.8 571.1L1202.5 569.7L1203.1 568.4L1203.8 567.0L1204.4 565.7L1205.0 564.3L1205.7 563.0L1206.4 561.6L1207.0 560.3L1207.7 558.9L1208.4 557.6L1209.0 556.3L1209.7 554.9L1210.4 553.6L1211.1 552.2L1211.8 550.9L1212.5 549.6L1213.2 548.3L1213.9 546.9L1214.6 545.6L1215.3 544.3L1216.0 542.9L1216.7 541.6L1217.4 540.3L1218.1 539.0L1218.8 537.7L1219.5 536.3L1220.3 535.0L1221.0 533.7L1221.7 532.4L1222.4 531.1L1223.1 529.8L1223.9 528.4L1224.6 527.1L1225.3 525.8L1226.1 524.5L1226.8 523.2L1227.5 521.9L1228.3 520.6L1229.0 519.3L1229.7 518.0L1230.5 516.7L1231.2 515.4L1232.0 514.1L1232.7 512.8L1233.5 511.5L1234.2 510.2L1235.0 508.9L1235.8 507.6L1236.5 506.3L1237.3 505.0L1238.1 503.7L1238.8 502.4L1239.6 501.1L1240.4 499.8L1241.1 498.6L1241.9 497.3L1242.7 496.0L1243.4 494.7L1244.2 493.4L1245.0 492.1L1245.7 490.8L1246.5 489.5L1247.3 488.2L1248.0 486.9L1248.8 485.6L1249.6 484.3L1250.3 483.1L1251.1 481.8L1251.9 480.5L1252.6 479.2L1253.4 477.9L1254.2 476.6L1255.0 475.3L1255.7 474.1L1256.5 472.8L1257.3 471.5L1258.1 470.2L1258.9 468.9L1259.7 467.7L1260.5 466.4L1261.3 465.1L1262.1 463.9L1262.9 462.6L1263.8 461.4L1264.6 460.1L1265.4 458.9L1266.2 457.6L1267.1 456.4L1267.9 455.1L1268.7 453.9L1269.6 452.6L1270.5 451.4L1271.3 450.2L1272.2 448.9L1273.0 447.7L1273.9 446.5L1274.8 445.3L1275.7 444.0L1276.5 442.8L1277.4 441.6L1278.3 440.4L1279.2 439.2L1280.1 438.0L1281.0 436.8L1281.9 435.6L1282.8 434.4L1283.7 433.2L1284.6 432.0L1285.5 430.8L1286.4 429.6L1287.3 428.4L1288.3 427.2L1289.2 426.0L1290.1 424.8L1291.0 423.7L1292.0 422.5L1292.9 421.3L1293.8 420.1L1294.8 419.0L1295.8 417.8L1296.7 416.6L1297.7 415.5L1298.6 414.4L1299.6 413.2L1300.6 412.1L1301.6 411.0L1302.6 409.8L1303.6 408.7L1304.6 407.6L1305.6 406.5L1306.6 405.4L1307.7 404.4L1308.7 403.3L1309.8 402.2L1310.9 401.2L1311.9 400.1L1313.0 399.1L1314.1 398.0L1315.2 397.0L1316.3 396.0L1317.4 395.0L1318.5 394.0L1319.7 393.0L1320.8 392.0L1321.9 390.9L1323.0 389.9L1324.2 388.9L1325.3 387.9L1326.5 386.9L1327.6 385.8L1328.8 384.8L1329.9 383.9L1331.1 382.9L1332.3 382.0L1333.5 381.1L1334.7 380.2L1336.0 379.4L1337.2 378.6L1338.5 377.9L1339.8 377.2L1341.1 376.6L1342.4 375.9L1343.7 375.2L1345.1 374.6L1346.5 373.9L1347.9 373.2L1349.3 372.6L1350.7 372.0L1352.2 371.4L1353.6 370.9L1355.1 370.5L1356.6 370.1L1358.0 369.8L1359.5 369.6L1361.0 369.5L1362.4 369.5L1363.9 369.5L1365.4 369.6L1366.9 369.7L1368.4 369.8L1369.9 370.0L1371.5 370.1L1373.0 370.3L1374.5 370.5L1376.0 370.8L1377.5 371.0L1378.9 371.2L1380.3 371.5L1381.7 371.8L1383.1 372.2L1384.5 372.7L1385.9 373.4L1387.3 374.0L1388.6 374.8L1389.9 375.5L1391.3 376.3L1392.6 377.2L1393.9 378.0L1395.1 378.8L1396.4 379.6L1397.6 380.4L1398.9 381.3L1400.1 382.2L1401.2 383.1L1402.4 384.0L1403.6 385.0L1404.7 386.0L1405.9 386.9L1407.0 387.9L1408.2 388.9L1409.3 389.9L1410.5 390.8L1411.7 391.8L1412.9 392.7L1414.0 393.7L1415.2 394.7L1416.4 395.7L1417.6 396.8L1418.8 397.8L1420.0 398.7L1421.2 399.6L1422.4 400.3L1423.7 400.9L1425.1 401.3L1426.6 401.7L1428.1 402.0L1429.7 402.2L1431.2 402.4L1432.6 402.5L1433.8 402.3L1435.1 401.7L1436.3 400.7L1437.4 399.5L1438.5 398.2L1439.5 396.8L1440.3 395.4L1441.0 394.1L1441.6 392.9L1442.1 391.6L1442.6 390.3L1443.1 388.9L1443.5 387.4L1443.9 386.0L1444.3 384.5L1444.7 383.0L1445.0 381.5L1445.4 380.0L1445.8 378.4L1446.1 376.9L1446.5 375.4L1446.9 373.9L1447.3 372.5L1447.7 371.0L1448.1 369.6L1448.6 368.2L1449.0 366.7L1449.5 365.3L1449.9 363.9L1450.4 362.4L1450.8 361.0L1451.3 359.6L1451.7 358.1L1452.2 356.7L1452.7 355.3L1453.1 353.9L1453.6 352.4L1454.0 351.0L1454.5 349.6L1454.9 348.1L1455.3 346.7L1455.8 345.3L1456.2 343.8L1456.7 342.4L1457.1 340.9L1457.5 339.5L1457.9 338.1L1458.3 336.6L1458.8 335.2L1459.2 333.7L1459.6 332.3L1460.0 330.9L1460.5 329.4L1460.9 328.0L1461.3 326.5L1461.7 325.1L1462.2 323.7L1462.6 322.2L1463.1 320.8L1463.5 319.4L1464.0 317.9L1464.4 316.5L1464.9 315.1L1465.4 313.7L1465.9 312.2L1466.3 310.8L1466.8 309.4L1467.3 308.0L1467.8 306.6L1468.3 305.1L1468.8 303.7L1469.2 302.3L1469.7 300.9L1470.2 299.4L1470.6 298.0L1471.1 296.6L1471.5 295.1L1472.0 293.7L1472.4 292.3L1472.9 290.8L1473.3 289.4L1473.8 288.0L1474.3 286.5L1474.7 285.1L1475.2 283.7L1475.7 282.3L1476.3 280.9L1476.8 279.5L1477.3 278.1L1477.9 276.7L1478.4 275.3L1479.0 273.9L1479.6 272.5L1480.2 271.1L1480.8 269.7L1481.5 268.3L1482.1 267.0L1482.8 265.6L1483.5 264.3L1484.2 263.1L1485.0 261.8L1485.8 260.5L1486.7 259.3L1487.6 258.0L1488.5 256.7L1489.5 255.5L1490.5 254.4L1491.6 253.4L1492.7 252.6L1494.0 251.8L1495.3 251.1L1496.8 250.4L1498.2 249.8L1499.7 249.4L1501.1 249.2L1502.4 249.4L1503.7 250.0L1505.0 250.9L1506.2 252.0L1507.4 253.2L1508.5 254.4L1509.4 255.5L1510.3 256.6L1511.2 257.8L1512.0 259.0L1512.8 260.3L1513.5 261.7L1514.2 263.0L1514.9 264.4L1515.5 265.8L1516.2 267.2L1516.7 268.6L1517.3 270.0L1517.8 271.4L1518.3 272.8L1518.8 274.2L1519.3 275.6L1519.7 277.1L1520.1 278.5L1520.5 280.0L1521.0 281.4L1521.3 282.9L1521.7 284.3L1522.1 285.8L1522.5 287.3L1522.9 288.7L1523.3 290.2L1523.6 291.6L1524.0 293.1L1524.4 294.5L1524.8 296.0L1525.2 297.4L1525.5 298.9L1525.9 300.3L1526.3 301.8L1526.6 303.3L1527.0 304.7L1527.3 306.2L1527.7 307.6L1528.0 309.1L1528.4 310.6L1528.7 312.0L1529.1 313.5L1529.4 314.9L1529.8 316.4L1530.1 317.9L1530.4 319.3L1530.8 320.8L1531.1 322.2L1531.5 323.7L1531.8 325.2L1532.1 326.6L1532.5 328.1L1532.8 329.6L1533.1 331.0L1533.4 332.5L1533.7 334.0L1534.0 335.4L1534.3 336.9L1534.6 338.4L1534.9 339.8L1535.2 341.3L1535.5 342.8L1535.8 344.3L1536.0 345.7L1536.3 347.2L1536.6 348.7L1536.8 350.2L1537.1 351.7L1537.4 353.1L1537.6 354.6L1537.9 356.1L1538.2 357.6L1538.4 359.0L1538.7 360.5L1539.0 362.0L1539.2 363.5L1539.5 364.9L1539.8 366.4L1540.1 367.9L1540.3 369.4L1540.6 370.8L1540.9 372.3L1541.2 373.8L1541.5 375.3L1541.7 376.7L1542.0 378.2L1542.3 379.7L1542.6 381.2L1542.9 382.6L1543.2 384.1L1543.4 385.6L1543.7 387.2L1544.0 388.7L1544.2 390.2L1544.5 391.7L1544.8 393.2L1545.1 394.6L1545.5 396.1L1545.9 397.5L1546.3 398.9L1546.8 400.2L1547.4 401.8L1548.1 403.4L1549.0 405.0L1550.0 406.4L1550.9 407.4L1551.8 407.9L1552.7 407.7L1553.7 407.0L1554.7 405.9L1555.7 404.5L1556.7 402.9L1557.6 401.4L1558.5 400.0L1559.4 398.8L1560.2 397.6L1561.0 396.3L1561.7 395.0L1562.4 393.7L1563.1 392.4L1563.8 391.0L1564.5 389.7L1565.2 388.3L1565.9 387.0L1566.6 385.6L1567.2 384.3L1567.9 382.9L1568.6 381.5L1569.3 380.2L1570.0 378.9L1570.7 377.6L1571.5 376.3L1572.2 375.0L1573.0 373.7L1573.8 372.5L1574.7 371.2L1575.5 370.0L1576.4 368.7L1577.3 367.5L1578.2 366.3L1579.1 365.1L1580.1 363.9L1581.1 362.7L1582.1 361.6L1583.1 360.6L1584.2 359.6L1585.3 358.6L1586.5 357.5L1587.7 356.4L1589.0 355.4L1590.3 354.7L1591.7 354.3L1593.0 354.3L1594.4 354.5L1595.8 354.9L1597.2 355.4L1598.7 356.0L1600.1 356.6L1601.6 357.4L1603.0 358.1L1604.3 358.9L1605.6 359.6L1606.8 360.3L1608.0 361.2L1609.2 362.0L1610.4 363.0L1611.6 364.0L1612.7 365.0L1613.8 366.1L1614.9 367.2L1615.9 368.3L1617.0 369.4L1618.0 370.5L1619.0 371.7L1619.9 372.8L1620.9 373.9L1621.8 375.1L1622.7 376.3L1623.6 377.5L1624.5 378.7L1625.3 379.9L1626.2 381.2L1627.0 382.4L1627.8 383.7L1628.7 385.0L1629.5 386.2L1630.3 387.5L1631.1 388.8L1631.9 390.1L1632.7 391.4L1633.5 392.6L1634.3 393.9L1635.1 395.2L1635.9 396.4L1636.7 397.7L1637.5 399.0L1638.3 400.3L1639.1 401.5L1639.8 402.8L1640.6 404.1L1641.4 405.4L1642.1 406.7L1642.9 408.0L1643.6 409.3L1644.4 410.6L1645.1 411.9L1645.8 413.2L1646.5 414.6L1647.2 415.9L1647.9 417.2L1648.6 418.5L1649.3 419.9L1650.0 421.2L1650.6 422.6L1651.3 423.9L1652.0 425.3L1652.6 426.6L1653.3 428.0L1653.9 429.3L1654.6 430.7L1655.2 432.0L1655.9 433.4L1656.5 434.7L1657.1 436.1L1657.8 437.5L1658.4 438.8L1659.0 440.2L1659.7 441.5L1660.3 442.9L1660.9 444.3L1661.5 445.7L1662.1 447.0L1662.7 448.4L1663.3 449.8L1663.9 451.1L1664.5 452.5L1665.1 453.9L1665.7 455.3L1666.3 456.7L1666.8 458.1L1667.4 459.4L1668.0 460.8L1668.5 462.2L1669.1 463.6L1669.6 465.0L1670.2 466.4L1670.7 467.8L1671.2 469.2L1671.8 470.6L1672.3 472.0L1672.8 473.4L1673.4 474.8L1673.9 476.3L1674.4 477.7L1674.9 479.1L1675.4 480.5L1676.0 481.9L1676.5 483.3L1677.0 484.7L1677.5 486.1L1678.1 487.5L1678.6 488.9L1679.1 490.3L1679.6 491.7L1680.2 493.1L1680.7 494.5L1681.3 495.9L1681.8 497.3L1682.3 498.7L1682.9 500.1L1683.4 501.5L1684.0 502.9L1684.5 504.3L1685.1 505.7L1685.6 507.1L1686.2 508.5L1686.7 509.9L1687.2 511.3L1687.8 512.7L1688.3 514.1L1688.8 515.5L1689.4 516.9L1689.9 518.4L1690.4 519.8L1690.9 521.2L1691.4 522.6L1691.9 524.0L1692.4 525.4L1692.9 526.8L1693.4 528.2L1693.9 529.6L1694.4 531.1L1694.9 532.5L1695.4 533.9L1695.9 535.3L1696.4 536.7L1696.9 538.2L1697.4 539.6L1697.9 541.0L1698.4 542.4L1698.8 543.8L1699.3 545.3L1699.8 546.7L1700.3 548.1L1700.7 549.5L1701.2 551.0L1701.7 552.4L1702.2 553.8L1702.6 555.2L1703.1 556.7L1703.6 558.1L1704.0 559.5L1704.5 560.9L1705.0 562.4L1705.4 563.8L1705.9 565.2L1706.3 566.6L1706.8 568.1L1707.2 569.5L1707.7 570.9L1708.1 572.4L1708.6 573.8L1709.0 575.2L1709.5 576.7L1709.9 578.1L1710.4 579.5L1710.8 581.0L1711.2 582.4L1711.7 583.9L1712.1 585.3L1712.5 586.7L1712.9 588.2L1713.4 589.6L1713.8 591.0L1714.2 592.5L1714.6 593.9L1715.0 595.4L1715.5 596.8L1715.9 598.3L1716.3 599.7L1716.7 601.1L1717.1 602.6L1717.5 604.0L1717.9 605.5L1718.4 606.9L1718.8 608.4L1719.2 609.8L1719.6 611.2L1720.0 612.7L1720.4 614.1L1720.8 615.6L1721.2 617.0L1721.7 618.5L1722.1 619.9L1722.5 621.3L1722.9 622.8L1723.3 624.2L1723.7 625.7L1724.2 627.1L1724.6 628.5L1725.0 630.0L1725.4 631.4L1725.9 632.9L1726.3 634.3L1726.7 635.7L1727.2 637.2L1727.6 638.6L1728.0 640.1L1728.5 641.5L1728.9 642.9L1729.3 644.4L1729.7 645.8L1730.1 647.3L1730.6 648.7L1731.0 650.1L1731.4 651.6L1731.8 653.0L1732.2 654.5L1732.6 655.9L1733.0 657.4L1733.4 658.8L1733.8 660.3L1734.2 661.7L1734.6 663.2L1735.0 664.6L1735.4 666.0L1735.8 667.5L1736.1 668.9L1736.5 670.4L1736.9 671.8L1737.3 673.3L1737.7 674.7L1738.1 676.2L1738.5 677.7L1738.8 679.1L1739.2 680.6L1739.6 682.0L1740.0 683.5L1740.4 684.9L1740.7 686.4L1741.1 687.8L1741.5 689.3L1741.9 690.7L1742.3 692.2L1742.7 693.6L1743.0 695.1L1743.4 696.5L1743.8 698.0L1744.2 699.4L1744.6 700.9L1744.9 702.3L1745.3 703.8L1745.7 705.2L1746.1 706.7L1746.5 708.1L1746.8 709.6L1747.2 711.0L1747.6 712.5L1748.0 713.9L1748.3 715.4L1748.7 716.9L1749.1 718.3L1749.5 719.8L1749.9 721.2L1750.2 722.7L1750.6 724.1L1751.0 725.6L1751.4 727.0L1751.8 728.5L1752.2 729.9L1752.5 731.4L1752.9 732.8L1753.3 734.3L1753.7 735.7L1754.1 737.2L1754.4 738.6L1754.8 740.1L1755.2 741.5L1755.6 743.0L1756.0 744.4L1756.4 745.9L1756.7 747.3L1757.1 748.8L1757.5 750.2L1757.9 751.7L1758.2 753.1L1758.6 754.6L1759.0 756.1L1759.4 757.5L1759.7 759.0L1760.1 760.4L1760.5 761.9L1760.8 763.3L1761.2 764.8L1761.6 766.2L1761.9 767.7L1762.3 769.2L1762.6 770.6L1763.0 772.1L1763.3 773.5L1763.7 775.0L1764.0 776.4L1764.4 777.9L1764.7 779.4L1765.1 780.8L1765.4 782.3L1765.8 783.7L1766.1 785.2L1766.5 786.7L1766.9 788.1L1767.2 789.6L1767.6 791.0L1767.9 792.5L1768.3 794.0L1768.6 795.4L1769.0 796.9L1769.3 798.3L1769.7 799.8L1770.0 801.2L1770.4 802.7L1770.7 804.2L1771.1 805.6L1771.5 807.1L1771.8 808.5L1772.2 810.0L1772.5 811.5L1772.9 812.9L1773.2 814.4L1773.6 815.8L1773.9 817.3L1774.3 818.7L1774.6 820.2L1775.0 821.7L1775.4 823.1L1775.7 824.6L1776.1 826.0L1776.4 827.5L1776.8 829.0L1777.1 830.4L1777.5 831.9L1777.8 833.3L1778.2 834.8L1778.6 836.2L1778.9 837.7L1779.3 839.2L1779.6 840.6L1780.0 842.1L1780.3 843.5L1780.7 845.0L1781.1 846.4L1781.4 847.9L1781.8 849.4L1782.1 850.8L1782.5 852.3L1782.8 853.7L1783.2 855.2L1783.6 856.7L1783.9 858.1L1784.3 859.6L1784.6 861.0L1785.0 862.5L1785.3 863.9L1785.7 865.4L1786.0 866.9L1786.4 868.3L1786.8 869.8L1787.1 871.2L1787.5 872.7L1787.8 874.2L1788.2 875.6L1788.5 877.1L1788.9 878.5L1789.2 880.0L1789.6 881.4L1789.9 882.9L1790.3 884.4L1790.7 885.8L1791.0 887.3L1791.4 888.7L1791.7 890.2L1792.1 891.6L1792.4 893.1L1792.8 894.6L1793.2 896.0L1793.5 897.5L1793.9 898.9L1794.2 900.4L1794.6 901.8L1795.0 903.3L1795.3 904.8L1795.7 906.2L1796.1 907.7L1796.4 909.1L1796.8 910.6L1797.2 912.0L1797.5 913.5L1797.9 914.9L1798.3 916.4L1798.6 917.9L1799.0 919.3L1799.4 920.8L1799.7 922.2L1800.1 923.7L1800.5 925.1L1800.8 926.6L1801.2 928.0L1801.6 929.5L1801.9 931.0L1802.3 932.4L1802.7 933.9L1803.0 935.3L1803.4 936.8L1803.8 938.2L1804.1 939.7L1804.5 941.1L1804.9 942.6L1805.2 944.1L1805.6 945.5L1806.0 947.0L1806.3 948.4L1806.7 949.9L1807.1 951.3L1807.4 952.8L1807.8 954.2L1808.2 955.7L1808.5 957.2L1808.9 958.6L1809.3 960.1L1809.6 961.5L1810.0 963.0L1810.4 964.4L1810.7 965.9L1811.1 967.3L1811.4 968.8L1811.8 970.3L1812.2 971.7L1812.5 973.2L1812.9 974.6L1813.2 976.1L1813.6 977.5L1814.0 979.0L1814.3 980.5L1814.7 981.9L1815.0 983.4L1815.4 984.8L1815.7 986.3L1816.1 987.7L1816.5 989.2L1816.8 990.7L1817.2 992.1L1817.5 993.6L1817.9 995.0L1818.2 996.5L1818.6 998.0L1819.0 999.4L1819.3 1000.9L1819.7 1002.3L1820.0 1003.8L1820.4 1005.2L1820.7 1006.7L1821.1 1008.2L1821.4 1009.6L1821.8 1011.1L1822.2 1012.5L1822.5 1014.0L1822.9 1015.4L1823.2 1016.9L1823.6 1018.4L1823.9 1019.8L1824.3 1021.3L1824.6 1022.7L1825.0 1024.2L1825.3 1025.7L1825.7 1027.1L1826.0 1028.6L1826.4 1030.0L1826.8 1031.5L1827.1 1033.0L1827.5 1034.4L1827.8 1035.9L1828.2 1037.3L1828.5 1038.8L1828.9 1040.2L1829.2 1041.7L1829.6 1043.2L1829.9 1044.6L1830.3 1046.1L1830.6 1047.5L1831.0 1049.0L1831.3 1050.5L1831.7 1051.9L1832.0 1053.4L1832.4 1054.8L1832.7 1056.3L1833.1 1057.8L1833.5 1059.2L1833.8 1060.7L1834.2 1062.1L1834.5 1063.6L1834.9 1065.0L1835.2 1066.5L1835.6 1068.0L1835.9 1069.4L1836.3 1070.9L1836.6 1072.3L1837.0 1073.8L1837.3 1075.3L1837.7 1076.7L1838.0 1078.2L1838.4 1079.6L1838.7 1081.1L1839.1 1082.6L1839.4 1084.0L1839.8 1085.5L1840.1 1086.9L1840.5 1088.4L1840.8 1089.9L1841.2 1091.3L1841.5 1092.8L1841.9 1094.2L1842.2 1095.7L1842.6 1097.1L1842.9 1098.6L1843.3 1100.1L1843.7 1101.5L1844.0 1103.0L1844.4 1104.4L1844.7 1105.9L1845.1 1107.4L1845.4 1108.8L1845.8 1110.3L1846.1 1111.7L1846.5 1113.2L1846.8 1114.6L1847.2 1116.1L1847.6 1117.6L1847.9 1119.0L1848.3 1120.5L1848.6 1121.9L1849.0 1123.4L1849.3 1124.9L1849.7 1126.3L1850.1 1127.8L1850.4 1129.2L1850.8 1130.7L1851.2 1132.1L1851.5 1133.6L1851.9 1135.0L1852.3 1136.5L1852.6 1138.0L1853.0 1139.4L1853.4 1140.9L1853.7 1142.3L1854.1 1143.8L1854.5 1145.2L1854.9 1146.7L1855.2 1148.1L1855.6 1149.6L1856.0 1151.0L1856.4 1152.5L1856.8 1153.9L1857.1 1155.4L1857.5 1156.8L1857.9 1158.3L1858.3 1159.7L1858.7 1161.2L1859.0 1162.7L1859.4 1164.1L1859.8 1165.6L1860.2 1167.0" stroke="#0000ff" stroke-width="9.6" fill="none" stroke-linejoin="round"/>
<path d="M345.5 238.6L345.5 240.1L345.6 241.6L345.6 243.1L345.7 244.6L345.7 246.1L345.7 247.6L345.8 249.1L345.8 250.6L345.9 252.1L345.9 253.6L345.9 255.1L346.0 256.6L346.0 258.1L346.1 259.6L346.1 261.1L346.1 262.6L346.2 264.1L346.2 265.6L346.2 267.1L346.3 268.6L346.3 270.1L346.3 271.6L346.4 273.1L346.4 274.5M346.6 280.9L346.6 282.1L346.6 283.6L346.7 285.1L346.7 286.6L346.7 288.1L346.8 289.6L346.8 291.1L346.8 292.6L346.9 294.1L346.9 295.6L346.9 297.1L347.0 298.6L347.0 300.1L347.0 300.5M347.1 307.1L347.2 307.6L347.2 309.1L347.2 310.6L347.3 312.1L347.3 313.6L347.3 315.1L347.3 316.6L347.4 318.1L347.4 319.6L347.4 321.1L347.5 322.6L347.5 324.1L347.5 325.6L347.5 327.1L347.6 328.6L347.6 330.1L347.6 331.6L347.7 333.1L347.7 334.6L347.7 336.1L347.7 337.6L347.8 339.1L347.8 340.6L347.8 342.1L347.9 343.6L347.9 344.9M348.0 351.4L348.0 352.6L348.0 354.1L348.1 355.6L348.1 357.1L348.1 358.6L348.1 360.1L348.2 361.6L348.2 363.1L348.2 364.6L348.3 366.1L348.3 367.6L348.3 369.1L348.3 370.6L348.3 371.1M348.5 377.6L348.5 378.1L348.5 379.6L348.5 381.1L348.5 382.6L348.6 384.1L348.6 385.6L348.6 387.1L348.7 388.6L348.7 390.1L348.7 391.6L348.7 393.2L348.8 394.7L348.8 396.2L348.8 397.7L348.8 399.2L348.9 400.7L348.9 402.2L348.9 403.7L348.9 405.2L349.0 406.7L349.0 408.2L349.0 409.7L349.0 411.2L349.1 412.7L349.1 414.2L349.1 415.4M349.2 421.9L349.2 423.2L349.3 424.7L349.3 426.2L349.3 427.7L349.3 429.2L349.4 430.7L349.4 432.2L349.4 433.7L349.4 435.2L349.5 436.7L349.5 438.2L349.5 439.7L349.5 441.2L349.5 441.3M349.6 447.8L349.6 448.7L349.7 450.2L349.7 451.7L349.7 453.2L349.7 454.7L349.8 456.2L349.8 457.7L349.8 459.2L349.8 460.7L349.9 462.2L349.9 463.7L349.9 465.2L349.9 466.7L350.0 468.2L350.0 469.7L350.0 471.2L350.0 472.7L350.1 474.2L350.1 475.7L350.1 477.2L350.1 478.7L350.2 480.2L350.2 481.7L350.2 483.2L350.2 484.7L350.3 485.2M350.4 491.7L350.4 492.2L350.4 493.7L350.4 495.2L350.4 496.7L350.5 498.2L350.5 499.7L350.5 501.2L350.6 502.7L350.6 504.2L350.6 505.7L350.6 507.2L350.7 508.7L350.7 510.2L350.7 511.1M350.8 517.6L350.8 517.7L350.8 519.2L350.9 520.7L350.9 522.2L350.9 523.7L351.0 525.2L351.0 526.7L351.0 528.2L351.0 529.7L351.1 531.2L351.1 532.7L351.1 534.2L351.1 535.7L351.2 537.2L351.2 538.7L351.2 540.2L351.2 541.7L351.3 543.2L351.3 544.7L351.3 546.2L351.4 547.7L351.4 549.2L351.4 550.7L351.4 552.2L351.5 553.7L351.5 555.0M351.6 561.5L351.6 562.7L351.6 564.2L351.7 565.7L351.7 567.2L351.7 568.7L351.7 570.2L351.8 571.7L351.8 573.2L351.8 574.7L351.8 576.2L351.9 577.7L351.9 579.2L351.9 580.7L351.9 580.9M352.0 587.4L352.0 588.2L352.1 589.7L352.1 591.2L352.1 592.7L352.1 594.2L352.1 595.7L352.2 597.2L352.2 598.7L352.2 600.2L352.2 601.7L352.3 603.2L352.3 604.7L352.3 606.2L352.3 607.7L352.4 609.2L352.4 610.7L352.4 612.2L352.4 613.7L352.5 615.2L352.5 616.7L352.5 618.2L352.5 619.7L352.6 621.2L352.6 622.7L352.6 624.2L352.6 624.8M352.7 631.2L352.7 631.7L352.7 633.2L352.8 634.7L352.8 636.2L352.8 637.8L352.8 639.3L352.9 640.8L352.9 642.3L352.9 643.8L353.0 645.3L353.0 646.8L353.0 648.3L353.0 649.8L353.0 650.7M353.2 657.2L353.2 657.3L353.2 658.8L353.2 660.3L353.3 661.8L353.3 663.3L353.3 664.8L353.3 666.3L353.4 667.8L353.4 669.3L353.4 670.8L353.5 672.3L353.5 673.8L353.5 675.3L353.5 676.8L353.6 678.3L353.6 679.8L353.6 681.3L353.7 682.8L353.7 684.3L353.7 685.8L353.7 687.3L353.8 688.8L353.8 690.3L353.8 691.8L353.9 693.3L353.9 694.5M354.0 701.0L354.0 702.3L354.1 703.8L354.1 705.3L354.1 706.8L354.2 708.3L354.2 709.8L354.2 711.3L354.3 712.8L354.3 714.3L354.3 715.8L354.3 717.3L354.4 718.8L354.4 720.3L354.4 720.7M354.6 727.2L354.6 727.8L354.6 729.3L354.6 730.8L354.7 732.3L354.7 733.8L354.7 735.3L354.7 736.8L354.8 738.3L354.8 739.8L354.8 741.3L354.9 742.8L354.9 744.3L354.9 745.8L355.0 747.3L355.0 748.8L355.0 750.3L355.1 751.8L355.1 753.3L355.1 754.8L355.2 756.3L355.2 757.8L355.2 759.3L355.2 760.8L355.3 762.3L355.3 763.8L355.3 765.0M355.5 771.6L355.5 772.8L355.5 774.3L355.5 775.8L355.6 777.3L355.6 778.8L355.6 780.3L355.7 781.8L355.7 783.3L355.7 784.8L355.7 786.3L355.8 787.8L355.8 789.3L355.8 790.8L355.8 791.2M356.0 797.8L356.0 798.3L356.0 799.8L356.0 801.3L356.0 802.8L356.1 804.3L356.1 805.8L356.1 807.3L356.2 808.8L356.2 810.3L356.2 811.8L356.2 813.3L356.2 814.8L356.3 816.3L356.3 817.8L356.3 819.3L356.3 820.8L356.4 822.3L356.4 823.8L356.4 825.3L356.4 826.8L356.5 828.3L356.5 829.8L356.5 831.3L356.5 832.8L356.5 834.3L356.6 835.6M356.7 842.1L356.7 843.3L356.7 844.8L356.7 846.3L356.7 847.8L356.8 849.3L356.8 850.8L356.8 852.3L356.8 853.8L356.9 855.3L356.9 856.8L356.9 858.3L356.9 859.8L356.9 861.3L356.9 861.7M357.0 868.3L357.1 868.8L357.1 870.3L357.1 871.8L357.1 873.3L357.2 874.8L357.2 876.3L357.2 877.8L357.2 879.3L357.3 880.8L357.3 882.3L357.3 883.8L357.3 885.3L357.4 886.8L357.4 888.3L357.4 889.8L357.4 891.3L357.5 892.8L357.5 894.3L357.5 895.8L357.5 897.3L357.6 898.9L357.6 900.4L357.6 901.9L357.7 903.4L357.7 904.9L357.7 906.1M357.9 912.6L357.9 913.9L357.9 915.4L358.0 916.9L358.0 918.4L358.0 919.9L358.1 921.4L358.1 922.9L358.1 924.4L358.2 925.9L358.2 927.4L358.2 928.9L358.3 930.4L358.3 931.8M358.5 938.2L358.5 939.4L358.5 940.9L358.6 942.4L358.6 943.9L358.6 945.4L358.7 946.9L358.7 948.4L358.8 949.9L358.8 951.4L358.8 952.9L358.9 954.4L358.9 955.9L359.0 957.4L359.0 958.9L359.1 960.4L359.1 961.9L359.2 963.4L359.2 964.9L359.2 966.4L359.3 967.9L359.3 969.4L359.4 970.9L359.4 972.4L359.5 973.9L359.5 975.2M359.8 981.7L359.8 982.9L359.9 984.4L359.9 985.9L360.0 987.4L360.0 988.9L360.1 990.4L360.2 991.9L360.2 993.4L360.3 994.9L360.4 996.4L360.4 997.9L360.5 999.4L360.6 1000.9L360.6 1002.0M360.9 1008.6L361.0 1009.9L361.1 1011.4L361.1 1012.9L361.2 1014.4L361.3 1015.8L361.4 1017.3L361.5 1018.8L361.6 1020.3L361.7 1021.8L361.8 1023.3L361.9 1024.8L362.0 1026.3L362.1 1027.8L362.2 1029.3L362.3 1030.8L362.4 1032.3L362.5 1033.8L362.6 1035.3L362.8 1036.8L362.9 1038.3L363.0 1039.8L363.1 1041.3L363.3 1042.8L363.4 1044.3L363.5 1045.6M364.3 1052.9L364.4 1053.2L364.6 1054.8L364.9 1056.5L365.2 1058.5L365.5 1060.4L365.9 1062.1L366.3 1063.5L366.7 1064.3L367.1 1064.4L367.7 1063.6L368.3 1062.1L368.9 1060.3L369.5 1058.6L370.0 1057.2L370.6 1055.8L371.2 1054.4L371.8 1053.0L371.9 1052.7M374.2 1045.8L374.6 1044.5L375.1 1043.1L375.5 1041.6L375.9 1040.2L376.3 1038.7L376.7 1037.3L377.1 1035.8L377.5 1034.4L377.8 1032.9L378.2 1031.5L378.6 1030.0L378.9 1028.6L379.3 1027.1L379.6 1025.6L380.0 1024.2L380.3 1022.7L380.6 1021.2L381.0 1019.8L381.3 1018.3L381.6 1016.8L382.0 1015.4L382.3 1013.9L382.6 1012.4L382.9 1011.1M384.3 1004.8L384.6 1003.6L384.9 1002.2L385.3 1000.7L385.6 999.2L385.9 997.8L386.2 996.3L386.5 994.8L386.9 993.4L387.2 991.9L387.5 990.4L387.8 989.0L388.1 987.5L388.4 986.0L388.5 985.6M389.8 979.2L389.9 978.7L390.2 977.2L390.5 975.7L390.8 974.3L391.1 972.8L391.4 971.3L391.7 969.9L392.0 968.4L392.3 966.9L392.6 965.4L392.9 964.0L393.2 962.5L393.5 961.0L393.8 959.5L394.1 958.1L394.3 956.6L394.6 955.1L394.9 953.7L395.2 952.2L395.5 950.7L395.8 949.2L396.1 947.8L396.4 946.3L396.7 944.8L397.0 943.4L397.3 942.2M398.6 935.7L398.8 934.5L399.1 933.1L399.4 931.6L399.7 930.1L400.0 928.7L400.3 927.2L400.6 925.7L400.9 924.2L401.2 922.8L401.5 921.3L401.8 919.8L402.1 918.4L402.4 916.9L402.5 916.5M403.8 910.1L404.0 909.5L404.3 908.1L404.6 906.6L404.9 905.1L405.2 903.7L405.5 902.2L405.8 900.7L406.1 899.3L406.4 897.8L406.7 896.3L407.0 894.8L407.3 893.4L407.6 891.9L407.9 890.4L408.2 889.0L408.5 887.5L408.8 886.0L409.1 884.6L409.4 883.1L409.7 881.6L410.0 880.2L410.3 878.7L410.6 877.2L410.9 875.7L411.3 874.3L411.5 873.1M412.8 866.8L413.1 865.5L413.4 864.0L413.7 862.5L414.0 861.1L414.3 859.6L414.6 858.1L414.9 856.6L415.3 855.2L415.6 853.7L415.9 852.2L416.2 850.8L416.5 849.3L416.7 848.4M418.0 842.2L418.0 842.0L418.4 840.5L418.7 839.0L419.0 837.6L419.3 836.1L419.6 834.6L419.9 833.2L420.2 831.7L420.5 830.2L420.8 828.7L421.2 827.3L421.5 825.8L421.8 824.3L422.1 822.9L422.4 821.4L422.7 819.9L423.0 818.5L423.3 817.0L423.7 815.5L424.0 814.1L424.3 812.6L424.6 811.1L424.9 809.7L425.2 808.2L425.5 806.9M426.8 800.6L427.1 799.4L427.4 797.9L427.7 796.5L428.0 795.0L428.4 793.5L428.7 792.1L429.0 790.6L429.3 789.1L429.6 787.7L429.9 786.2L430.3 784.7L430.6 783.3L430.9 781.8L431.0 781.4M432.4 775.0L432.5 774.4L432.8 773.0L433.1 771.5L433.4 770.0L433.7 768.6L434.1 767.1L434.4 765.6L434.7 764.2L435.0 762.7L435.3 761.2L435.6 759.8L436.0 758.3L436.3 756.8L436.6 755.4L436.9 753.9L437.2 752.4L437.6 751.0L437.9 749.5L438.2 748.0L438.5 746.6L438.8 745.1L439.2 743.6L439.5 742.2L439.8 740.7L440.1 739.2L440.4 738.0M441.8 731.6L442.0 730.4L442.3 729.0L442.7 727.5L443.0 726.0L443.3 724.6L443.6 723.1L443.9 721.6L444.2 720.2L444.6 718.7L444.9 717.2L445.2 715.8L445.5 714.3L445.8 712.8L445.9 712.4M447.3 706.0L447.5 705.5L447.8 704.1L448.1 702.6L448.4 701.1L448.8 699.7L449.1 698.2L449.4 696.7L449.8 695.3L450.1 693.8L450.5 692.4L450.8 690.9L451.1 689.4L451.5 688.0L451.8 686.5L452.2 685.0L452.5 683.6L452.9 682.1L453.2 680.7L453.6 679.2L453.9 677.7L454.3 676.3L454.6 674.8L455.0 673.4L455.3 671.9L455.7 670.4L456.0 669.3M457.5 662.9L457.8 661.7L458.1 660.2L458.5 658.8L458.8 657.3L459.2 655.9L459.6 654.4L459.9 652.9L460.3 651.5L460.6 650.0L461.0 648.6L461.3 647.1L461.7 645.6L462.0 644.2L462.1 643.8M463.6 637.4L463.8 636.9L464.1 635.4L464.5 634.0L464.8 632.5L465.1 631.0L465.5 629.6L465.8 628.1L466.2 626.7L466.5 625.2L466.9 623.7L467.2 622.3L467.5 620.8L467.9 619.4L468.2 617.9L468.6 616.4L468.9 615.0L469.3 613.5L469.6 612.1L470.0 610.6L470.3 609.1L470.7 607.7L471.1 606.2L471.4 604.8L471.8 603.3L472.1 601.9L472.4 600.7M474.0 594.4L474.3 593.1L474.7 591.7L475.1 590.2L475.5 588.8L475.8 587.3L476.2 585.9L476.6 584.4L477.0 583.0L477.3 581.5L477.7 580.0L478.1 578.6L478.5 577.1L478.8 575.8M480.5 569.6L480.8 568.4L481.2 567.0L481.5 565.5L481.9 564.1L482.3 562.6L482.7 561.2L483.1 559.7L483.5 558.3L483.9 556.8L484.3 555.4L484.7 553.9L485.1 552.5L485.5 551.0L485.9 549.6L486.3 548.2L486.7 546.7L487.1 545.3L487.5 543.8L487.9 542.4L488.3 540.9L488.7 539.5L489.2 538.0L489.6 536.6L490.0 535.2L490.3 533.9M492.1 527.8L492.5 526.5L492.9 525.1L493.4 523.6L493.8 522.2L494.2 520.8L494.6 519.3L495.1 517.9L495.5 516.5L495.9 515.0L496.4 513.6L496.8 512.1L497.2 510.7L497.7 509.3M499.5 503.2L499.9 502.1L500.3 500.7L500.8 499.2L501.2 497.8L501.7 496.4L502.1 494.9L502.6 493.5L503.1 492.1L503.5 490.6L504.0 489.2L504.4 487.8L504.9 486.4L505.4 484.9L505.8 483.5L506.3 482.1L506.8 480.7L507.3 479.2L507.7 477.8L508.2 476.4L508.7 475.0L509.2 473.5L509.7 472.1L510.2 470.7L510.7 469.3L511.1 468.1M513.2 462.0L513.7 460.8L514.2 459.4L514.7 458.0L515.2 456.6L515.7 455.2L516.3 453.8L516.8 452.4L517.3 451.0L517.9 449.6L518.4 448.2L519.0 446.8L519.5 445.4L520.1 444.0L520.2 443.6M522.7 437.5L522.9 437.0L523.5 435.6L524.0 434.2L524.6 432.9L525.2 431.5L525.8 430.1L526.4 428.7L527.0 427.3L527.5 425.9L528.1 424.6L528.7 423.2L529.4 421.8L530.0 420.4L530.6 419.1L531.2 417.7L531.8 416.4L532.5 415.0L533.1 413.6L533.8 412.3L534.4 411.0L535.1 409.6L535.8 408.3L536.5 406.9L537.2 405.6L537.9 404.3L538.5 403.2M541.6 397.7L541.6 397.7L542.4 396.4L543.1 395.1L543.9 393.8L544.7 392.5L545.5 391.2L546.3 389.9L547.1 388.6L547.9 387.4L548.8 386.2L549.7 384.9L550.6 383.7L551.4 382.7M555.4 378.3L555.5 378.2L556.6 377.1L557.8 376.1L559.0 375.1L560.2 374.3L561.5 373.7L562.8 373.1L564.3 372.5L565.8 372.1L567.3 371.8L568.7 371.8L570.2 372.0L571.8 372.3L573.3 372.7L574.7 373.2L576.0 373.7L577.3 374.3L578.4 375.1L579.6 376.0L580.6 377.1L581.7 378.2L582.7 379.5L583.7 380.7L583.8 380.9M587.7 385.6L588.4 386.7L589.3 387.9L590.1 389.2L591.0 390.4L591.8 391.7L592.7 392.9L593.6 394.1L594.6 395.2L595.6 396.3L596.7 397.6L597.9 398.9L599.1 400.1L599.6 400.5M605.0 399.3L606.0 398.1L606.9 396.7L607.6 395.4L608.0 394.1L608.5 392.7L608.9 391.3L609.2 389.9L609.6 388.4L609.8 386.8L610.1 385.3L610.4 383.8L610.6 382.2L610.9 380.7L611.1 379.2L611.4 377.8L611.6 376.3L611.8 374.8L612.0 373.3L612.2 371.8L612.4 370.3L612.6 368.8L612.8 367.3L613.0 365.9L613.2 364.4L613.3 363.1M614.3 356.7L614.5 355.5L614.8 354.0L615.1 352.5L615.3 351.0L615.6 349.6L615.9 348.1L616.2 346.6L616.4 345.1L616.7 343.7L617.0 342.2L617.3 340.7L617.6 339.2L617.8 337.8L617.9 337.4M619.1 330.9L619.2 330.4L619.4 328.9L619.7 327.4L620.0 325.9L620.2 324.5L620.5 323.0L620.8 321.5L621.0 320.0L621.3 318.6L621.6 317.1L621.8 315.6L622.1 314.1L622.4 312.7L622.6 311.2L622.9 309.7L623.2 308.2L623.4 306.7L623.7 305.3L624.0 303.8L624.2 302.3L624.5 300.8L624.8 299.4L625.0 297.9L625.3 296.4L625.5 294.9L625.8 293.7M626.9 287.3L627.1 286.1L627.4 284.6L627.7 283.1L628.0 281.6L628.2 280.2L628.5 278.7L628.8 277.2L629.0 275.7L629.3 274.3L629.6 272.8L629.8 271.3L630.1 269.8L630.3 268.4M631.5 262.1L631.7 261.0L632.0 259.5L632.2 258.0L632.5 256.5L632.8 255.0L633.0 253.6L633.3 252.1L633.5 250.6L633.8 249.1L634.1 247.7L634.3 246.2L634.6 244.7L634.9 243.2L635.1 241.8L635.4 240.3L635.7 238.8L635.9 237.3L636.2 235.8L636.5 234.4L636.7 232.9L637.0 231.4L637.3 229.9L637.5 228.5L637.8 227.0L638.0 225.7M639.1 219.4L639.3 218.1L639.6 216.6L639.8 215.1L640.0 213.6L640.3 212.1L640.5 210.6L640.7 209.1L641.0 207.6L641.2 206.2L641.5 204.7L641.8 203.2L642.1 201.8L642.4 200.5M644.1 194.5L644.6 193.1L645.2 191.6L645.8 190.2L646.5 188.8L647.2 187.5L648.0 186.3L648.9 185.3L649.9 184.2L651.1 183.1L652.3 182.1L653.7 181.3L655.1 180.6L656.5 180.3L657.8 180.2L659.2 180.1L660.7 180.1L662.1 180.0L663.6 179.9L665.1 179.8L666.7 179.6L668.2 179.5L669.8 179.4L671.3 179.3L672.8 179.2M678.6 178.8L678.9 178.8L680.4 178.7L681.9 178.6L683.4 178.5L684.9 178.5L686.4 178.4L687.9 178.3L689.4 178.3L690.9 178.2L692.4 178.2L693.9 178.1L694.3 178.1M699.8 177.8L699.9 177.8L701.4 177.7L702.9 177.6L704.4 177.4L705.9 177.3L707.4 177.2L708.9 177.0L710.4 176.8L711.9 176.6L713.4 176.4L714.9 176.1L716.4 175.8L717.9 175.5L719.4 175.2L720.9 174.6L722.4 173.8L723.9 173.1L725.4 172.5L726.9 171.8L728.4 171.1L729.9 170.7L731.4 170.7L731.8 170.9M737.2 173.2L737.4 173.2L738.9 173.6L740.4 173.6L741.9 173.7L743.4 173.7L744.9 173.7L746.4 173.7L747.9 173.7L749.4 173.8L750.9 173.8L752.4 173.9L753.9 174.0L755.3 174.2M761.3 174.2L761.4 174.1L762.9 173.9L764.4 173.6L765.9 173.4L767.4 173.4L768.9 173.4L770.4 173.4L771.9 173.4L773.4 173.4L774.9 173.4L776.4 173.4L777.9 173.4L779.4 173.4L780.9 173.4L782.4 173.4L783.9 173.5L785.4 173.7L786.9 174.1L788.4 174.6L789.9 175.0L791.3 175.3L792.8 175.5L794.3 175.7L794.5 175.7M800.1 176.7L800.3 176.7L801.8 177.1L803.3 177.5L804.8 177.9L806.3 178.3L807.8 178.6L809.3 178.9L810.8 179.1L812.3 179.4L813.8 179.7L815.3 179.9L816.8 180.1L816.9 180.2M822.6 180.6L822.8 180.6L824.3 180.6L825.8 180.5L827.3 180.5L828.8 180.4L830.3 180.3L831.8 180.2L833.3 180.0L834.8 179.9L836.3 179.8L837.8 179.7L839.3 179.6L840.8 179.5L842.3 179.4L843.8 179.3L845.3 179.2L847.0 179.2L848.6 179.4L850.0 179.8L851.1 180.0L852.1 180.6L853.0 181.9L853.4 182.6M855.2 188.3L855.4 189.6L855.6 191.1L855.8 192.5L856.0 194.0L856.2 195.5L856.3 197.0L856.5 198.5L856.6 200.0L856.7 201.6L856.8 203.1L856.9 204.6L857.1 206.1L857.2 207.5M858.0 214.0L858.1 215.1L858.3 216.6L858.5 218.1L858.7 219.6L858.9 221.1L859.1 222.6L859.3 224.1L859.6 225.5L859.8 227.0L860.0 228.5L860.2 230.0L860.5 231.5L860.7 233.0L860.9 234.4L861.1 235.9L861.4 237.4L861.6 238.9L861.8 240.4L862.0 241.9L862.3 243.3L862.5 244.8L862.7 246.3L863.0 247.8L863.2 249.3L863.4 250.8L863.6 251.9M864.6 258.5L864.7 259.7L864.9 261.2L865.2 262.6L865.4 264.1L865.6 265.6L865.8 267.1L866.0 268.6L866.3 270.1L866.5 271.6L866.7 273.0L866.9 274.5L867.1 276.0L867.4 277.5L867.4 277.9M868.4 284.4L868.4 284.9L868.7 286.4L868.9 287.9L869.1 289.4L869.3 290.9L869.5 292.3L869.7 293.8L870.0 295.3L870.2 296.8L870.4 298.3L870.6 299.8L870.8 301.3L871.0 302.7L871.2 304.2L871.5 305.7L871.7 307.2L871.9 308.7L872.1 310.2L872.3 311.7L872.5 313.1L872.8 314.6L873.0 316.1L873.2 317.6L873.4 319.1L873.6 320.6L873.8 321.8M874.8 328.2L874.9 329.5L875.2 331.0L875.4 332.4L875.6 333.9L875.8 335.4L876.1 336.9L876.3 338.4L876.5 339.9L876.7 341.3L876.9 342.8L877.2 344.3L877.4 345.8L877.6 347.2M878.5 353.6L878.7 354.7L878.9 356.2L879.1 357.7L879.3 359.2L879.5 360.7L879.6 362.2L879.8 363.7L880.0 365.2L880.2 366.7L880.4 368.2L880.6 369.7L880.8 371.2L880.9 372.7L881.1 374.2L881.3 375.6L881.5 377.1L881.8 378.6L882.0 380.1L882.2 381.6L882.4 383.1L882.7 384.5L882.9 386.0L883.2 387.5L883.5 389.0L883.7 390.2M885.1 396.7L885.4 397.8L885.8 399.3L886.3 400.8L886.8 402.2L887.4 403.6L888.0 404.9L888.8 406.0L889.8 407.4L891.1 408.5L892.3 409.0L893.4 408.7L894.4 407.8L895.5 406.5L896.3 405.2M899.5 399.4L900.0 398.3L900.6 396.9L901.1 395.5L901.6 394.1L902.1 392.6L902.5 391.1L903.0 389.7L903.5 388.2L904.0 386.8L904.6 385.4L905.2 384.0L905.8 382.7L906.5 381.4L907.2 380.0L907.9 378.7L908.6 377.4L909.4 376.0L910.1 374.7L910.9 373.4L911.8 372.1L912.6 370.8L913.5 369.6L914.3 368.4L915.2 367.2L916.0 366.3M919.7 362.0L920.1 361.5L921.2 360.2L922.3 359.0L923.5 357.7L924.7 356.6L925.9 355.6L927.2 354.7L928.4 354.1L929.7 353.7L931.0 353.5L931.3 353.5M936.8 354.6L938.2 355.1L939.7 355.7L941.2 356.3L942.5 356.9L943.8 357.5L945.1 358.2L946.3 359.1L947.5 360.0L948.7 361.0L949.8 362.0L950.9 363.1L952.0 364.3L953.0 365.4L954.0 366.5L955.0 367.6L955.9 368.7L956.8 369.9L957.7 371.1L958.6 372.4L959.4 373.6L960.3 374.9L961.1 376.1L961.9 377.4L962.7 378.6M966.1 383.9L966.9 385.0L967.7 386.2L968.5 387.5L969.3 388.7L970.2 390.0L971.0 391.2L971.8 392.5L972.6 393.8L973.4 395.1L974.2 396.3L975.0 397.6L975.8 398.9L976.5 400.1M979.7 405.6L980.3 406.7L981.0 408.0L981.7 409.3L982.4 410.6L983.1 412.0L983.7 413.3L984.4 414.6L985.1 416.0L985.7 417.3L986.4 418.7L987.0 420.0L987.7 421.4L988.3 422.7L989.0 424.1L989.6 425.5L990.2 426.8L990.8 428.2L991.5 429.6L992.1 431.0L992.7 432.3L993.3 433.7L993.9 435.1L994.6 436.4L995.2 437.8L995.7 439.0M998.4 444.8L998.9 446.0L999.5 447.4L1000.2 448.7L1000.8 450.1L1001.4 451.5L1002.0 452.8L1002.6 454.2L1003.2 455.6L1003.8 457.0L1004.4 458.3L1005.0 459.7L1005.6 461.1L1006.2 462.4M1008.6 468.3L1009.0 469.4L1009.5 470.8L1010.1 472.2L1010.6 473.6L1011.2 475.0L1011.7 476.4L1012.2 477.8L1012.7 479.2L1013.3 480.6L1013.8 482.1L1014.3 483.5L1014.8 484.9L1015.3 486.3L1015.8 487.7L1016.3 489.1L1016.8 490.5L1017.3 492.0L1017.8 493.4L1018.3 494.8L1018.8 496.2L1019.3 497.6L1019.8 499.1L1020.2 500.5L1020.7 501.9L1021.1 503.1M1023.2 509.3L1023.6 510.4L1024.0 511.9L1024.5 513.3L1024.9 514.7L1025.4 516.2L1025.8 517.6L1026.2 519.0L1026.7 520.5L1027.1 521.9L1027.5 523.4L1028.0 524.8L1028.4 526.2L1028.8 527.7L1029.0 528.1M1030.9 534.3L1031.1 534.8L1031.5 536.3L1031.9 537.7L1032.4 539.1L1032.8 540.6L1033.3 542.0L1033.7 543.4L1034.2 544.9L1034.6 546.3L1035.0 547.7L1035.5 549.2L1035.9 550.6L1036.4 552.0L1036.8 553.5L1037.2 554.9L1037.7 556.3L1038.1 557.8L1038.6 559.2L1039.0 560.7L1039.5 562.1L1039.9 563.5L1040.3 565.0L1040.8 566.4L1041.2 567.8L1041.7 569.3L1042.0 570.4M1044.0 576.7L1044.3 577.9L1044.8 579.3L1045.2 580.7L1045.7 582.2L1046.1 583.6L1046.6 585.0L1047.1 586.4L1047.5 587.9L1048.0 589.3L1048.4 590.7L1048.8 592.2L1049.3 593.6L1049.7 595.0L1049.8 595.4M1051.7 601.7L1051.8 602.2L1052.3 603.7L1052.7 605.1L1053.1 606.6L1053.5 608.0L1053.9 609.5L1054.3 610.9L1054.6 612.4L1055.0 613.8L1055.4 615.3L1055.8 616.7L1056.2 618.2L1056.6 619.6L1057.0 621.1L1057.3 622.5L1057.7 624.0L1058.1 625.4L1058.5 626.9L1058.9 628.3L1059.2 629.8L1059.6 631.2L1060.0 632.7L1060.4 634.1L1060.8 635.6L1061.2 637.0L1061.5 638.2M1063.3 644.5L1063.6 645.7L1064.1 647.1L1064.5 648.6L1064.9 650.0L1065.4 651.4L1065.8 652.9L1066.2 654.3L1066.7 655.8L1067.1 657.2L1067.5 658.6L1067.9 660.1L1068.4 661.5L1068.8 663.0L1068.9 663.3M1070.7 669.7L1070.8 670.2L1071.2 671.6L1071.6 673.1L1072.0 674.5L1072.4 676.0L1072.7 677.4L1073.1 678.9L1073.5 680.3L1073.8 681.8L1074.2 683.3L1074.6 684.7L1074.9 686.2L1075.3 687.6L1075.6 689.1L1076.0 690.5L1076.4 692.0L1076.7 693.5L1077.1 694.9L1077.4 696.4L1077.8 697.8L1078.2 699.3L1078.5 700.7L1078.9 702.2L1079.3 703.6L1079.7 705.1L1080.0 706.3M1081.6 712.3L1082.0 713.8L1082.4 715.2L1082.8 716.7L1083.2 718.1L1083.6 719.6L1084.1 721.0L1084.5 722.5L1084.9 723.9L1085.3 725.3L1085.7 726.8L1086.1 728.2L1086.6 729.7L1086.6 729.7M1088.3 735.5L1088.8 736.8L1089.2 738.3L1089.6 739.7L1090.0 741.2L1090.5 742.7L1090.9 744.1L1091.4 745.6L1091.8 747.0L1092.3 748.4L1092.8 749.8L1093.3 751.2L1093.9 752.6L1094.5 753.9L1095.1 755.3L1095.8 756.6L1096.5 758.0L1097.3 759.4L1098.2 760.7L1099.1 761.9L1100.0 763.0L1101.1 764.0L1102.2 764.9L1103.5 765.8L1103.7 765.8M1109.5 766.7L1110.5 766.3L1111.9 765.5L1113.2 764.5L1114.4 763.5L1115.5 762.5L1116.5 761.5L1117.4 760.4L1118.3 759.2L1119.1 757.9L1119.9 756.6L1120.6 755.3L1121.4 753.9L1122.0 752.6M1124.9 746.9L1125.4 745.7L1126.0 744.4L1126.6 743.0L1127.2 741.6L1127.8 740.2L1128.3 738.8L1128.9 737.4L1129.4 736.0L1130.0 734.6L1130.6 733.2L1131.2 731.8L1131.8 730.5L1132.4 729.1L1133.0 727.7L1133.6 726.3L1134.2 725.0L1134.8 723.6L1135.4 722.2L1136.1 720.9L1136.7 719.5L1137.3 718.1L1137.9 716.8L1138.6 715.4L1139.2 714.0L1139.7 712.9M1142.3 707.1L1142.8 705.8L1143.4 704.4L1144.0 703.1L1144.6 701.7L1145.2 700.3L1145.8 698.9L1146.4 697.6L1147.0 696.2L1147.6 694.8L1148.2 693.4L1148.8 692.0L1149.4 690.7L1149.7 689.8M1152.2 684.0L1152.3 683.7L1152.9 682.4L1153.4 681.0L1154.0 679.6L1154.6 678.2L1155.2 676.8L1155.7 675.4L1156.3 674.0L1156.9 672.7L1157.4 671.3L1158.0 669.9L1158.6 668.5L1159.2 667.1L1159.7 665.7L1160.3 664.3L1160.9 662.9L1161.4 661.5L1162.0 660.2L1162.6 658.8L1163.1 657.4L1163.7 656.0L1164.3 654.6L1164.9 653.2L1165.5 651.8L1166.0 650.6M1168.5 644.7L1169.0 643.6L1169.6 642.2L1170.2 640.8L1170.8 639.4L1171.4 638.0L1172.0 636.7L1172.6 635.3L1173.2 633.9L1173.8 632.6L1174.4 631.2L1175.0 629.8L1175.6 628.4L1176.2 627.1L1176.4 626.7M1179.1 620.7L1179.3 620.2L1179.9 618.8L1180.5 617.5L1181.1 616.1L1181.8 614.7L1182.4 613.4L1183.0 612.0L1183.6 610.6L1184.2 609.3L1184.9 607.9L1185.5 606.5L1186.1 605.2L1186.7 603.8L1187.4 602.5L1188.0 601.1L1188.6 599.7L1189.3 598.4L1189.9 597.0L1190.5 595.6L1191.1 594.3L1191.8 592.9L1192.4 591.6L1193.0 590.2L1193.7 588.8L1194.3 587.5L1194.8 586.4M1197.5 580.5L1198.1 579.3L1198.7 577.9L1199.3 576.6L1200.0 575.2L1200.6 573.8L1201.2 572.5L1201.8 571.1L1202.5 569.7L1203.1 568.4L1203.8 567.0L1204.4 565.7L1205.0 564.3L1205.7 563.0M1208.5 557.3L1209.0 556.3L1209.7 554.9L1210.4 553.6L1211.1 552.2L1211.8 550.9L1212.5 549.6L1213.2 548.3L1213.9 546.9L1214.6 545.6L1215.3 544.3L1216.0 542.9L1216.7 541.6L1217.4 540.3L1218.1 539.0L1218.8 537.7L1219.5 536.3L1220.3 535.0L1221.0 533.7L1221.7 532.4L1222.4 531.1L1223.1 529.8L1223.9 528.4L1224.6 527.1L1225.3 525.8L1226.0 524.7M1229.1 519.0L1229.7 518.0L1230.5 516.7L1231.2 515.4L1232.0 514.1L1232.7 512.8L1233.5 511.5L1234.2 510.2L1235.0 508.9L1235.8 507.6L1236.5 506.3L1237.3 505.0L1238.1 503.7L1238.8 502.4L1239.0 502.1M1242.4 496.4L1242.7 496.0L1243.4 494.7L1244.2 493.4L1245.0 492.1L1245.7 490.8L1246.5 489.5L1247.3 488.2L1248.0 486.9L1248.8 485.6L1249.6 484.3L1250.3 483.1L1251.1 481.8L1251.9 480.5L1252.6 479.2L1253.4 477.9L1254.2 476.6L1255.0 475.3L1255.7 474.1L1256.5 472.8L1257.3 471.5L1258.1 470.2L1258.9 468.9L1259.7 467.7L1260.5 466.4L1261.3 465.1L1262.0 464.1M1265.4 458.9L1265.4 458.9L1266.2 457.6L1267.1 456.4L1267.9 455.1L1268.7 453.9L1269.6 452.6L1270.5 451.4L1271.3 450.2L1272.2 448.9L1273.0 447.7L1273.9 446.5L1274.8 445.3L1275.6 444.1M1279.2 439.2L1279.2 439.2L1280.1 438.0L1281.0 436.8L1281.9 435.6L1282.8 434.4L1283.7 433.2L1284.6 432.0L1285.5 430.8L1286.4 429.6L1287.3 428.4L1288.3 427.2L1289.2 426.0L1290.1 424.8L1291.0 423.7L1292.0 422.5L1292.9 421.3L1293.8 420.1L1294.8 419.0L1295.8 417.8L1296.7 416.6L1297.7 415.5L1298.6 414.4L1299.6 413.2L1300.6 412.1M1304.6 407.6L1305.6 406.5L1306.6 405.4L1307.7 404.4L1308.7 403.3L1309.8 402.2L1310.9 401.2L1311.9 400.1L1313.0 399.1L1314.1 398.0L1315.2 397.0L1316.3 396.0L1317.4 395.0M1321.7 391.1L1321.9 390.9L1323.0 389.9L1324.2 388.9L1325.3 387.9L1326.5 386.9L1327.6 385.8L1328.8 384.8L1329.9 383.9L1331.1 382.9L1332.3 382.0L1333.5 381.1L1334.7 380.2L1336.0 379.4L1337.2 378.6L1338.5 377.9L1339.8 377.2L1341.1 376.6L1342.4 375.9L1343.7 375.2L1345.1 374.6L1346.5 373.9L1347.9 373.2L1348.2 373.0M1353.4 370.3L1353.6 370.2L1355.1 369.2L1356.6 368.2L1358.0 367.2L1359.5 366.4L1361.0 366.1L1362.4 366.3L1363.9 366.8L1365.4 367.6L1366.9 368.4L1368.4 369.0L1369.9 369.5L1370.0 369.5M1375.8 370.2L1376.0 370.2L1377.5 370.3L1378.9 370.3L1380.3 370.3L1381.7 370.4L1383.1 370.6L1384.5 371.0L1385.9 371.6L1387.3 372.3L1388.6 373.1L1389.9 374.1L1391.3 375.1L1392.6 376.1L1393.9 377.2L1395.1 378.2L1396.4 379.2L1397.6 380.1L1398.9 381.1L1400.1 382.0L1401.2 383.0L1402.4 384.0L1403.6 384.9L1403.7 385.1M1408.2 388.9L1408.2 388.9L1409.3 389.9L1410.5 390.8L1411.7 391.8L1412.9 392.7L1414.0 393.7L1415.2 394.7L1416.4 395.7L1417.6 396.8L1418.8 397.8L1420.0 398.7L1421.2 399.6L1422.3 400.2M1428.3 402.0L1429.7 402.2L1431.2 402.4L1432.6 402.5L1433.8 402.3L1435.1 401.7L1436.3 400.7L1437.4 399.5L1438.5 398.2L1439.5 396.8L1440.3 395.4L1441.0 394.1L1441.6 392.9L1442.1 391.6L1442.6 390.3L1443.1 388.9L1443.5 387.4L1443.9 386.0L1444.3 384.5L1444.7 383.0L1445.0 381.5L1445.4 380.0L1445.8 378.4L1446.1 376.9L1446.5 375.4L1446.8 374.2M1448.7 367.9L1449.0 366.7L1449.5 365.3L1449.9 363.9L1450.4 362.4L1450.8 361.0L1451.3 359.6L1451.7 358.1L1452.2 356.7L1452.7 355.3L1453.1 353.9L1453.6 352.4L1454.0 351.0L1454.5 349.6L1454.6 349.2M1456.5 342.9L1456.7 342.4L1457.1 340.9L1457.5 339.5L1457.9 338.1L1458.3 336.6L1458.8 335.2L1459.2 333.7L1459.6 332.3L1460.0 330.9L1460.5 329.4L1460.9 328.0L1461.3 326.5L1461.7 325.1L1462.2 323.7L1462.6 322.2L1463.1 320.8L1463.5 319.4L1464.0 317.9L1464.4 316.5L1464.9 315.1L1465.4 313.7L1465.9 312.2L1466.3 310.8L1466.8 309.4L1467.3 308.0L1467.7 306.8M1469.7 300.8L1470.2 299.4L1470.6 298.0L1471.1 296.6L1471.5 295.1L1472.0 293.7L1472.4 292.3L1472.9 290.8L1473.3 289.4L1473.8 288.0L1474.3 286.5L1474.7 285.1L1475.2 283.7L1475.4 283.2M1477.6 277.5L1477.9 276.7L1478.4 275.3L1479.0 273.9L1479.6 272.5L1480.2 271.1L1480.8 269.7L1481.5 268.3L1482.1 267.0L1482.8 265.6L1483.5 264.3L1484.2 263.1L1485.0 261.8L1485.8 260.5L1486.7 259.3L1487.6 258.0L1488.5 256.7L1489.5 255.5L1490.5 254.4L1491.6 253.4L1492.7 252.6L1494.0 251.8L1495.3 251.1L1496.8 250.4L1498.1 249.8M1504.1 250.3L1505.0 250.9L1506.2 252.0L1507.4 253.2L1508.5 254.4L1509.4 255.5L1510.3 256.6L1511.2 257.8L1512.0 259.0L1512.8 260.3L1513.5 261.7L1514.2 263.0L1514.9 264.4L1515.5 265.7M1517.9 271.7L1518.3 272.8L1518.8 274.2L1519.3 275.6L1519.7 277.1L1520.1 278.5L1520.5 280.0L1521.0 281.4L1521.3 282.9L1521.7 284.3L1522.1 285.8L1522.5 287.3L1522.9 288.7L1523.3 290.2L1523.6 291.6L1524.0 293.1L1524.4 294.5L1524.8 296.0L1525.2 297.4L1525.5 298.9L1525.9 300.3L1526.3 301.8L1526.6 303.3L1527.0 304.7L1527.3 306.2L1527.7 307.6L1528.0 308.8M1529.5 315.1L1529.8 316.4L1530.1 317.9L1530.4 319.3L1530.8 320.8L1531.1 322.2L1531.5 323.7L1531.8 325.2L1532.1 326.6L1532.5 328.1L1532.8 329.6L1533.1 331.0L1533.4 332.5L1533.7 333.9M1535.0 340.2L1535.2 341.3L1535.5 342.8L1535.8 344.3L1536.0 345.7L1536.3 347.2L1536.6 348.7L1536.8 350.2L1537.1 351.7L1537.4 353.1L1537.6 354.6L1537.9 356.1L1538.2 357.6L1538.4 359.0L1538.7 360.5L1539.0 362.0L1539.2 363.5L1539.5 364.9L1539.8 366.4L1540.1 367.9L1540.3 369.4L1540.6 370.8L1540.9 372.3L1541.2 373.8L1541.5 375.3L1541.7 376.5M1542.9 382.9L1543.2 384.1L1543.4 385.6L1543.7 387.2L1544.0 388.7L1544.2 390.2L1544.5 391.7L1544.8 393.2L1545.1 394.6L1545.5 396.1L1545.9 397.5L1546.3 398.9L1546.8 400.2L1547.4 401.8L1547.5 402.1M1551.1 407.5L1551.8 407.9L1552.7 407.7L1553.7 407.0L1554.7 405.9L1555.7 404.5L1556.7 402.9L1557.6 401.4L1558.5 400.0L1559.4 398.8L1560.2 397.6L1561.0 396.3L1561.7 395.0L1562.4 393.7L1563.1 392.4L1563.8 391.0L1564.5 389.7L1565.2 388.3L1565.9 387.0L1566.6 385.6L1567.2 384.3L1567.9 382.9L1568.6 381.5L1569.3 380.2L1570.0 378.9L1570.7 377.6L1571.3 376.5M1574.6 371.4L1574.7 371.2L1575.5 370.0L1576.4 368.7L1577.3 367.5L1578.2 366.3L1579.1 365.1L1580.1 363.9L1581.1 362.7L1582.1 361.6L1583.1 360.6L1584.2 359.6L1585.3 358.6L1585.6 358.3M1590.2 354.8L1590.3 354.7L1591.7 354.3L1593.0 354.3L1594.4 354.5L1595.8 354.9L1597.2 355.4L1598.7 356.0L1600.1 356.6L1601.6 357.4L1603.0 358.1L1604.3 358.9L1605.6 359.6L1606.8 360.3L1608.0 361.2L1609.2 362.0L1610.4 363.0L1611.6 364.0L1612.7 365.0L1613.8 366.1L1614.9 367.2L1615.9 368.3L1617.0 369.4L1618.0 370.5L1618.0 370.6M1621.9 375.2L1622.7 376.3L1623.6 377.5L1624.5 378.7L1625.3 379.9L1626.2 381.2L1627.0 382.4L1627.8 383.7L1628.7 385.0L1629.5 386.2L1630.3 387.5L1631.1 388.8L1631.9 390.1L1632.4 390.9M1635.7 396.2L1635.9 396.4L1636.7 397.7L1637.5 399.0L1638.3 400.3L1639.1 401.5L1639.8 402.8L1640.6 404.1L1641.4 405.4L1642.1 406.7L1642.9 408.0L1643.6 409.3L1644.4 410.6L1645.1 411.9L1645.8 413.2L1646.5 414.6L1647.2 415.9L1647.9 417.2L1648.6 418.5L1649.3 419.9L1650.0 421.2L1650.6 422.6L1651.3 423.9L1652.0 425.3L1652.6 426.6L1653.2 427.8M1655.9 433.6L1656.5 434.7L1657.1 436.1L1657.8 437.5L1658.4 438.8L1659.0 440.2L1659.7 441.5L1660.3 442.9L1660.9 444.3L1661.5 445.7L1662.1 447.0L1662.7 448.4L1663.3 449.8L1663.9 451.1M1666.4 457.0L1666.8 458.1L1667.4 459.4L1668.0 460.8L1668.5 462.2L1669.1 463.6L1669.6 465.0L1670.2 466.4L1670.7 467.8L1671.2 469.2L1671.8 470.6L1672.3 472.0L1672.8 473.4L1673.4 474.8L1673.9 476.3L1674.4 477.7L1674.9 479.1L1675.4 480.5L1676.0 481.9L1676.5 483.3L1677.0 484.7L1677.5 486.1L1678.1 487.5L1678.6 488.9L1679.1 490.3L1679.6 491.5M1681.9 497.6L1682.3 498.7L1682.9 500.1L1683.4 501.5L1684.0 502.9L1684.5 504.3L1685.1 505.7L1685.6 507.1L1686.2 508.5L1686.7 509.9L1687.2 511.3L1687.8 512.7L1688.3 514.1L1688.8 515.5L1689.0 515.9M1691.2 522.1L1691.4 522.6L1691.9 524.0L1692.4 525.4L1692.9 526.8L1693.4 528.2L1693.9 529.6L1694.4 531.1L1694.9 532.5L1695.4 533.9L1695.9 535.3L1696.4 536.7L1696.9 538.2L1697.4 539.6L1697.9 541.0L1698.4 542.4L1698.8 543.8L1699.3 545.3L1699.8 546.7L1700.3 548.1L1700.7 549.5L1701.2 551.0L1701.7 552.4L1702.2 553.8L1702.6 555.2L1703.1 556.7L1703.5 557.8M1705.5 564.0L1705.9 565.2L1706.3 566.6L1706.8 568.1L1707.2 569.5L1707.7 570.9L1708.1 572.4L1708.6 573.8L1709.0 575.2L1709.5 576.7L1709.9 578.1L1710.4 579.5L1710.8 581.0L1711.2 582.3M1713.0 588.5L1713.4 589.6L1713.8 591.0L1714.2 592.5L1714.6 593.9L1715.0 595.4L1715.5 596.8L1715.9 598.3L1716.3 599.7L1716.7 601.1L1717.1 602.6L1717.5 604.0L1717.9 605.5L1718.4 606.9L1718.8 608.4L1719.2 609.8L1719.6 611.2L1720.0 612.7L1720.4 614.1L1720.8 615.6L1721.2 617.0L1721.7 618.5L1722.1 619.9L1722.5 621.3L1722.9 622.8L1723.3 624.0M1725.1 630.2L1725.4 631.4L1725.9 632.9L1726.3 634.3L1726.7 635.7L1727.2 637.2L1727.6 638.6L1728.0 640.1L1728.5 641.5L1728.9 642.9L1729.3 644.4L1729.7 645.8L1730.1 647.3L1730.5 648.6M1732.3 654.8L1732.6 655.9L1733.0 657.4L1733.4 658.8L1733.8 660.3L1734.2 661.7L1734.6 663.2L1735.0 664.6L1735.4 666.0L1735.8 667.5L1736.1 668.9L1736.5 670.4L1736.9 671.8L1737.3 673.3L1737.7 674.7L1738.1 676.2L1738.5 677.7L1738.8 679.1L1739.2 680.6L1739.6 682.0L1740.0 683.5L1740.4 684.9L1740.7 686.4L1741.1 687.8L1741.5 689.3L1741.8 690.5M1743.5 696.8L1743.8 698.0L1744.2 699.4L1744.6 700.9L1744.9 702.3L1745.3 703.8L1745.7 705.2L1746.1 706.7L1746.5 708.1L1746.8 709.6L1747.2 711.0L1747.6 712.5L1748.0 713.9L1748.3 715.4L1748.5 715.8M1750.1 722.1L1750.2 722.7L1750.6 724.1L1751.0 725.6L1751.4 727.0L1751.8 728.5L1752.2 729.9L1752.5 731.4L1752.9 732.8L1753.3 734.3L1753.7 735.7L1754.1 737.2L1754.4 738.6L1754.8 740.1L1755.2 741.5L1755.6 743.0L1756.0 744.4L1756.4 745.9L1756.7 747.3L1757.1 748.8L1757.5 750.2L1757.9 751.7L1758.2 753.1L1758.6 754.6L1759.0 756.1L1759.4 757.5L1759.7 758.7M1761.3 765.0L1761.6 766.2L1761.9 767.7L1762.3 769.2L1762.6 770.6L1763.0 772.1L1763.3 773.5L1763.7 775.0L1764.0 776.4L1764.4 777.9L1764.7 779.4L1765.1 780.8L1765.4 782.3L1765.8 783.7L1765.9 784.1M1767.4 790.5L1767.6 791.0L1767.9 792.5L1768.3 794.0L1768.6 795.4L1769.0 796.9L1769.3 798.3L1769.7 799.8L1770.0 801.2L1770.4 802.7L1770.7 804.2L1771.1 805.6L1771.5 807.1L1771.8 808.5L1772.2 810.0L1772.5 811.5L1772.9 812.9L1773.2 814.4L1773.6 815.8L1773.9 817.3L1774.3 818.7L1774.6 820.2L1775.0 821.7L1775.4 823.1L1775.7 824.6L1776.1 826.0L1776.4 827.2M1777.9 833.6L1778.2 834.8L1778.6 836.2L1778.9 837.7L1779.3 839.2L1779.6 840.6L1780.0 842.1L1780.3 843.5L1780.7 845.0L1781.1 846.4L1781.4 847.9L1781.8 849.4L1782.1 850.8L1782.5 852.3L1782.6 852.7M1784.1 859.0L1784.3 859.6L1784.6 861.0L1785.0 862.5L1785.3 863.9L1785.7 865.4L1786.0 866.9L1786.4 868.3L1786.8 869.8L1787.1 871.2L1787.5 872.7L1787.8 874.2L1788.2 875.6L1788.5 877.1L1788.9 878.5L1789.2 880.0L1789.6 881.4L1789.9 882.9L1790.3 884.4L1790.7 885.8L1791.0 887.3L1791.4 888.7L1791.7 890.2L1792.1 891.6L1792.4 893.1L1792.8 894.6L1793.1 895.8M1794.7 902.0L1795.0 903.3L1795.3 904.8L1795.7 906.2L1796.1 907.7L1796.4 909.1L1796.8 910.6L1797.2 912.0L1797.5 913.5L1797.9 914.9L1798.3 916.4L1798.6 917.9L1799.0 919.3L1799.3 920.7M1800.9 926.9L1801.2 928.0L1801.6 929.5L1801.9 931.0L1802.3 932.4L1802.7 933.9L1803.0 935.3L1803.4 936.8L1803.8 938.2L1804.1 939.7L1804.5 941.1L1804.9 942.6L1805.2 944.1L1805.6 945.5L1806.0 947.0L1806.3 948.4L1806.7 949.9L1807.1 951.3L1807.4 952.8L1807.8 954.2L1808.2 955.7L1808.5 957.2L1808.9 958.6L1809.3 960.1L1809.6 961.5L1809.9 962.8M1811.5 969.1L1811.8 970.3L1812.2 971.7L1812.5 973.2L1812.9 974.6L1813.2 976.1L1813.6 977.5L1814.0 979.0L1814.3 980.5L1814.7 981.9L1815.0 983.4L1815.4 984.8L1815.7 986.3L1816.1 987.7L1816.2 988.1M1817.8 994.5L1817.9 995.0L1818.2 996.5L1818.6 998.0L1819.0 999.4L1819.3 1000.9L1819.7 1002.3L1820.0 1003.8L1820.4 1005.2L1820.7 1006.7L1821.1 1008.2L1821.4 1009.6L1821.8 1011.1L1822.2 1012.5L1822.5 1014.0L1822.9 1015.4L1823.2 1016.9L1823.6 1018.4L1823.9 1019.8L1824.3 1021.3L1824.6 1022.7L1825.0 1024.2L1825.3 1025.7L1825.7 1027.1L1826.0 1028.6L1826.4 1030.0L1826.7 1031.2M1828.2 1037.5L1828.5 1038.8L1828.9 1040.2L1829.2 1041.7L1829.6 1043.2L1829.9 1044.6L1830.3 1046.1L1830.6 1047.5L1831.0 1049.0L1831.3 1050.5L1831.7 1051.9L1832.0 1053.4L1832.4 1054.8L1832.7 1056.2M1834.2 1062.5L1834.5 1063.6L1834.9 1065.0L1835.2 1066.5L1835.6 1068.0L1835.9 1069.4L1836.3 1070.9L1836.6 1072.3L1837.0 1073.8L1837.3 1075.3L1837.7 1076.7L1838.0 1078.2L1838.4 1079.6L1838.7 1081.1L1839.1 1082.6L1839.4 1084.0L1839.8 1085.5L1840.1 1086.9L1840.5 1088.4L1840.8 1089.9L1841.2 1091.3L1841.5 1092.8L1841.9 1094.2L1842.2 1095.7L1842.6 1097.1L1842.9 1098.4M1844.4 1104.7L1844.7 1105.9L1845.1 1107.4L1845.4 1108.8L1845.8 1110.3L1846.1 1111.7L1846.5 1113.2L1846.8 1114.6L1847.2 1116.1L1847.6 1117.6L1847.9 1119.0L1848.3 1120.5L1848.6 1121.9L1849.0 1123.4L1849.0 1123.6M1850.6 1129.9L1850.8 1130.7L1851.2 1132.1L1851.5 1133.6L1851.9 1135.0L1852.3 1136.5L1852.6 1138.0L1853.0 1139.4L1853.4 1140.9L1853.7 1142.3L1854.1 1143.8L1854.5 1145.2L1854.9 1146.7L1855.2 1148.1L1855.6 1149.6L1856.0 1151.0L1856.4 1152.5L1856.8 1153.9L1857.1 1155.4L1857.5 1156.8L1857.9 1158.3L1858.3 1159.7" stroke="#ff0000" stroke-width="9.6" fill="none" stroke-linejoin="round"/>
<rect x="1151.2" y="56.1" width="645" height="156" fill="#fff" stroke="#606060" stroke-width="1.9"/>
<path d="M1163.0 98.7h92" stroke="#0000ff" stroke-width="10" fill="none"/>
<path d="M1163.0 169.5h92" stroke="#ff0000" stroke-width="10" stroke-dasharray="36 8 18 8" fill="none"/>
<text x="1263.4" y="119.6" class="lg">Correct training data</text>
<text x="1263.4" y="190.5" class="lg">Fitted data</text>
<text x="313.7" y="1332" text-anchor="middle" class="tk">0</text>
<text x="622.9" y="1332" text-anchor="middle" class="tk">20</text>
<text x="932.2" y="1332" text-anchor="middle" class="tk">40</text>
<text x="1241.4" y="1332" text-anchor="middle" class="tk">60</text>
<text x="1550.7" y="1332" text-anchor="middle" class="tk">80</text>
<text x="1859.9" y="1332" text-anchor="middle" class="tk">100</text>
<text x="1086" y="1419.1" text-anchor="middle" class="lb">Time (s)</text>
<text transform="translate(261.5 679.6) rotate(-90)" class="lb">T<tspan dy="36.5" class="sb">G</tspan></text>
<path d="M280.3 1079.1L296.40000000000003 1111.3H284.1V1217.0H296.40000000000003L280.3 1249.2L264.2 1217.0H276.5V1111.3H264.2Z" fill="#000"/>
<text x="51.2" y="1182" class="an" textLength="205" lengthAdjust="spacingAndGlyphs">0.002°C</text>
<text x="998" y="1525.5" text-anchor="middle" class="cp"><tspan dx="1">(</tspan><tspan class="cb">c</tspan><tspan>)</tspan></text>
</g>
<g id="chart-d">
<path d="M541.9 2881.8v-16M541.9 1664.1v16M871.5 2881.8v-16M871.5 1664.1v16M1201.2 2881.8v-16M1201.2 1664.1v16M1530.8 2881.8v-16M1530.8 1664.1v16M212.3 2678.9h16M1860.4 2678.9h-16M212.3 2475.9h16M1860.4 2475.9h-16M212.3 2272.9h16M1860.4 2272.9h-16M212.3 2070.0h16M1860.4 2070.0h-16M212.3 1867.0h16M1860.4 1867.0h-16" stroke="#6a6a6a" stroke-width="2" fill="none"/>
<path d="M210.5 1664.1H1861.6000000000001M210.5 2881.8H1861.4" stroke="#686868" stroke-width="2.1" fill="none"/>
<path d="M212.3 1664.1V2881.8" stroke="#a8a8a8" stroke-width="3.7" fill="none"/>
<path d="M1860.4 1664.1V2881.8" stroke="#727272" stroke-width="2.1" fill="none"/>
<path d="M212.2 2813.0L212.5 2811.5L212.8 2810.1L213.1 2808.6L213.4 2807.1L213.7 2805.6L213.9 2804.1L214.2 2802.7L214.4 2801.2L214.6 2799.7L214.8 2798.2L215.0 2796.7L215.2 2795.2L215.4 2793.7L215.6 2792.2L215.8 2790.7L216.0 2789.2L216.1 2787.8L216.3 2786.3L216.4 2784.8L216.6 2783.3L216.7 2781.8L216.8 2780.3L216.9 2778.8L217.0 2777.3L217.1 2775.8L217.2 2774.3L217.2 2772.8L217.3 2771.3L217.4 2769.8L217.5 2768.3L217.6 2766.8L217.7 2765.3L217.7 2763.8L217.8 2762.3L217.9 2760.8L217.9 2759.3L218.0 2757.7L218.1 2756.2L218.1 2754.7L218.2 2753.2L218.3 2751.7L218.3 2750.2L218.4 2748.7L218.4 2747.2L218.5 2745.7L218.5 2744.2L218.6 2742.7L218.6 2741.2L218.7 2739.7L218.7 2738.2L218.8 2736.7L218.8 2735.2L218.9 2733.7L218.9 2732.2L218.9 2730.7L219.0 2729.2L219.0 2727.7L219.1 2726.2L219.1 2724.7L219.1 2723.2L219.2 2721.7L219.2 2720.2L219.3 2718.7L219.3 2717.2L219.3 2715.7L219.4 2714.2L219.4 2712.7L219.4 2711.2L219.5 2709.7L219.5 2708.2L219.5 2706.7L219.6 2705.1L219.6 2703.6L219.6 2702.1L219.7 2700.6L219.7 2699.1L219.7 2697.6L219.8 2696.1L219.8 2694.6L219.8 2693.1L219.9 2691.6L219.9 2690.1L219.9 2688.6L220.0 2687.1L220.0 2685.6L220.0 2684.1L220.1 2682.6L220.1 2681.1L220.1 2679.6L220.2 2678.1L220.2 2676.6L220.2 2675.1L220.3 2673.6L220.3 2672.1L220.4 2670.6L220.4 2669.1L220.4 2667.6L220.5 2666.1L220.5 2664.6L220.5 2663.1L220.6 2661.6L220.6 2660.1L220.7 2658.6L220.7 2657.0L220.7 2655.5L220.8 2654.0L220.8 2652.5L220.8 2651.0L220.9 2649.5L220.9 2648.0L220.9 2646.5L221.0 2645.0L221.0 2643.5L221.1 2642.0L221.1 2640.5L221.1 2639.0L221.2 2637.5L221.2 2636.0L221.2 2634.5L221.3 2633.0L221.3 2631.5L221.4 2630.0L221.4 2628.5L221.4 2627.0L221.5 2625.5L221.5 2624.0L221.5 2622.5L221.6 2621.0L221.6 2619.5L221.7 2618.0L221.7 2616.5L221.7 2615.0L221.8 2613.5L221.8 2612.0L221.8 2610.5L221.9 2609.0L221.9 2607.4L222.0 2605.9L222.0 2604.4L222.0 2602.9L222.1 2601.4L222.1 2599.9L222.1 2598.4L222.2 2596.9L222.2 2595.4L222.3 2593.9L222.3 2592.4L222.3 2590.9L222.4 2589.4L222.4 2587.9L222.4 2586.4L222.5 2584.9L222.5 2583.4L222.6 2581.9L222.6 2580.4L222.6 2578.9L222.7 2577.4L222.7 2575.9L222.7 2574.4L222.8 2572.9L222.8 2571.4L222.9 2569.9L222.9 2568.4L222.9 2566.9L223.0 2565.4L223.0 2563.9L223.0 2562.4L223.1 2560.9L223.1 2559.4L223.2 2557.8L223.2 2556.3L223.2 2554.8L223.3 2553.3L223.3 2551.8L223.4 2550.3L223.4 2548.8L223.4 2547.3L223.5 2545.8L223.5 2544.3L223.5 2542.8L223.6 2541.3L223.6 2539.8L223.7 2538.3L223.7 2536.8L223.7 2535.3L223.8 2533.8L223.8 2532.3L223.9 2530.8L223.9 2529.3L223.9 2527.8L224.0 2526.3L224.0 2524.8L224.0 2523.3L224.1 2521.8L224.1 2520.3L224.2 2518.8L224.2 2517.3L224.2 2515.8L224.3 2514.3L224.3 2512.8L224.3 2511.3L224.4 2509.8L224.4 2508.2L224.5 2506.7L224.5 2505.2L224.5 2503.7L224.6 2502.2L224.6 2500.7L224.6 2499.2L224.7 2497.7L224.7 2496.2L224.7 2494.7L224.8 2493.2L224.8 2491.7L224.9 2490.2L224.9 2488.7L224.9 2487.2L225.0 2485.7L225.0 2484.2L225.0 2482.7L225.1 2481.2L225.1 2479.7L225.1 2478.2L225.2 2476.7L225.2 2475.2L225.2 2473.7L225.3 2472.2L225.3 2470.7L225.3 2469.2L225.4 2467.7L225.4 2466.2L225.4 2464.7L225.5 2463.2L225.5 2461.7L225.6 2460.2L225.6 2458.6L225.6 2457.1L225.7 2455.6L225.7 2454.1L225.7 2452.6L225.8 2451.1L225.8 2449.6L225.8 2448.1L225.9 2446.6L225.9 2445.1L225.9 2443.6L226.0 2442.1L226.0 2440.6L226.0 2439.1L226.1 2437.6L226.1 2436.1L226.1 2434.6L226.2 2433.1L226.2 2431.6L226.2 2430.1L226.3 2428.6L226.3 2427.1L226.3 2425.6L226.4 2424.1L226.4 2422.6L226.4 2421.1L226.5 2419.6L226.5 2418.1L226.5 2416.6L226.6 2415.1L226.6 2413.6L226.6 2412.1L226.6 2410.5L226.7 2409.0L226.7 2407.5L226.7 2406.0L226.8 2404.5L226.8 2403.0L226.8 2401.5L226.9 2400.0L226.9 2398.5L226.9 2397.0L227.0 2395.5L227.0 2394.0L227.0 2392.5L227.1 2391.0L227.1 2389.5L227.1 2388.0L227.2 2386.5L227.2 2385.0L227.2 2383.5L227.3 2382.0L227.3 2380.5L227.3 2379.0L227.4 2377.5L227.4 2376.0L227.4 2374.5L227.4 2373.0L227.5 2371.5L227.5 2370.0L227.5 2368.5L227.6 2367.0L227.6 2365.5L227.6 2364.0L227.7 2362.4L227.7 2360.9L227.7 2359.4L227.8 2357.9L227.8 2356.4L227.8 2354.9L227.9 2353.4L227.9 2351.9L227.9 2350.4L228.0 2348.9L228.0 2347.4L228.0 2345.9L228.0 2344.4L228.1 2342.9L228.1 2341.4L228.1 2339.9L228.2 2338.4L228.2 2336.9L228.2 2335.4L228.3 2333.9L228.3 2332.4L228.3 2330.9L228.4 2329.4L228.4 2327.9L228.4 2326.4L228.5 2324.9L228.5 2323.4L228.5 2321.9L228.5 2320.4L228.6 2318.9L228.6 2317.4L228.6 2315.9L228.7 2314.3L228.7 2312.8L228.7 2311.3L228.8 2309.8L228.8 2308.3L228.8 2306.8L228.9 2305.3L228.9 2303.8L228.9 2302.3L228.9 2300.8L229.0 2299.3L229.0 2297.8L229.0 2296.3L229.1 2294.8L229.1 2293.3L229.1 2291.8L229.2 2290.3L229.2 2288.8L229.2 2287.3L229.3 2285.8L229.3 2284.3L229.3 2282.8L229.3 2281.3L229.4 2279.8L229.4 2278.3L229.4 2276.8L229.5 2275.3L229.5 2273.8L229.5 2272.3L229.6 2270.8L229.6 2269.3L229.6 2267.7L229.7 2266.2L229.7 2264.7L229.7 2263.2L229.8 2261.7L229.8 2260.2L229.8 2258.7L229.8 2257.2L229.9 2255.7L229.9 2254.2L229.9 2252.7L230.0 2251.2L230.0 2249.7L230.0 2248.2L230.1 2246.7L230.1 2245.2L230.1 2243.7L230.2 2242.2L230.2 2240.7L230.2 2239.2L230.2 2237.7L230.3 2236.2L230.3 2234.7L230.3 2233.2L230.4 2231.7L230.4 2230.2L230.4 2228.7L230.5 2227.2L230.5 2225.7L230.5 2224.2L230.5 2222.7L230.6 2221.2L230.6 2219.6L230.6 2218.1L230.7 2216.6L230.7 2215.1L230.7 2213.6L230.8 2212.1L230.8 2210.6L230.8 2209.1L230.8 2207.6L230.9 2206.1L230.9 2204.6L230.9 2203.1L231.0 2201.6L231.0 2200.1L231.0 2198.6L231.1 2197.1L231.1 2195.6L231.1 2194.1L231.1 2192.6L231.2 2191.1L231.2 2189.6L231.2 2188.1L231.3 2186.6L231.3 2185.1L231.3 2183.6L231.4 2182.1L231.4 2180.6L231.4 2179.1L231.4 2177.6L231.5 2176.1L231.5 2174.6L231.5 2173.0L231.6 2171.5L231.6 2170.0L231.6 2168.5L231.7 2167.0L231.7 2165.5L231.7 2164.0L231.7 2162.5L231.8 2161.0L231.8 2159.5L231.8 2158.0L231.9 2156.5L231.9 2155.0L231.9 2153.5L232.0 2152.0L232.0 2150.5L232.0 2149.0L232.0 2147.5L232.1 2146.0L232.1 2144.5L232.1 2143.0L232.2 2141.5L232.2 2140.0L232.2 2138.5L232.3 2137.0L232.3 2135.5L232.3 2134.0L232.3 2132.5L232.4 2131.0L232.4 2129.5L232.4 2128.0L232.5 2126.4L232.5 2124.9L232.5 2123.4L232.6 2121.9L232.6 2120.4L232.6 2118.9L232.6 2117.4L232.7 2115.9L232.7 2114.4L232.7 2112.9L232.8 2111.4L232.8 2109.9L232.8 2108.4L232.9 2106.9L232.9 2105.4L232.9 2103.9L232.9 2102.4L233.0 2100.9L233.0 2099.4L233.0 2097.9L233.1 2096.4L233.1 2094.9L233.1 2093.4L233.2 2091.9L233.2 2090.4L233.2 2088.9L233.2 2087.4L233.3 2085.9L233.3 2084.4L233.3 2082.9L233.4 2081.4L233.4 2079.9L233.4 2078.3L233.5 2076.8L233.5 2075.3L233.5 2073.8L233.5 2072.3L233.6 2070.8L233.6 2069.3L233.6 2067.8L233.7 2066.3L233.7 2064.8L233.7 2063.3L233.8 2061.8L233.8 2060.3L233.8 2058.8L233.8 2057.3L233.9 2055.8L233.9 2054.3L233.9 2052.8L234.0 2051.3L234.0 2049.8L234.0 2048.3L234.1 2046.8L234.1 2045.3L234.1 2043.8L234.1 2042.3L234.2 2040.8L234.2 2039.3L234.2 2037.8L234.3 2036.3L234.3 2034.8L234.3 2033.3L234.4 2031.7L234.4 2030.2L234.4 2028.7L234.5 2027.2L234.5 2025.7L234.5 2024.2L234.5 2022.7L234.6 2021.2L234.6 2019.7L234.6 2018.2L234.7 2016.7L234.7 2015.2L234.7 2013.7L234.8 2012.2L234.8 2010.7L234.8 2009.2L234.9 2007.7L234.9 2006.2L234.9 2004.7L234.9 2003.2L235.0 2001.7L235.0 2000.2L235.0 1998.7L235.1 1997.2L235.1 1995.7L235.1 1994.2L235.2 1992.7L235.2 1991.2L235.2 1989.7L235.3 1988.2L235.3 1986.7L235.3 1985.2L235.3 1983.6L235.4 1982.1L235.4 1980.6L235.4 1979.1L235.5 1977.6L235.5 1976.1L235.5 1974.6L235.6 1973.1L235.6 1971.6L235.6 1970.1L235.6 1968.6L235.7 1967.1L235.7 1965.6L235.7 1964.1L235.8 1962.6L235.8 1961.1L235.8 1959.6L235.9 1958.1L235.9 1956.6L235.9 1955.1L235.9 1953.6L236.0 1952.1L236.0 1950.6L236.0 1949.1L236.1 1947.6L236.1 1946.1L236.1 1944.6L236.2 1943.1L236.2 1941.6L236.2 1940.1L236.2 1938.6L236.3 1937.0L236.3 1935.5L236.3 1934.0L236.4 1932.5L236.4 1931.0L236.4 1929.5L236.4 1928.0L236.5 1926.5L236.5 1925.0L236.5 1923.5L236.6 1922.0L236.6 1920.5L236.6 1919.0L236.6 1917.5L236.7 1916.0L236.7 1914.5L236.7 1913.0L236.8 1911.5L236.8 1910.0L236.8 1908.5L236.8 1907.0L236.9 1905.5L236.9 1904.0L236.9 1902.5L236.9 1901.0L237.0 1899.5L237.0 1898.0L237.0 1896.5L237.0 1895.0L237.1 1893.5L237.1 1892.0L237.1 1890.4L237.1 1888.9L237.2 1887.4L237.2 1885.9L237.2 1884.4L237.2 1882.9L237.3 1881.4L237.3 1879.9L237.3 1878.4L237.3 1876.9L237.3 1875.4L237.4 1873.9L237.4 1872.4L237.4 1870.9L237.4 1869.4L237.5 1867.9L237.5 1866.4L237.5 1864.9L237.5 1863.4L237.6 1861.9L237.6 1860.4L237.6 1858.9L237.6 1857.4L237.7 1855.9L237.7 1854.4L237.7 1852.9L237.7 1851.4L237.8 1849.9L237.8 1848.4L237.8 1846.9L237.8 1845.3L237.9 1843.8L237.9 1842.3L237.9 1840.8L237.9 1839.3L238.0 1837.8L238.0 1836.3L238.0 1834.8L238.1 1833.3L238.1 1831.8L238.1 1830.3L238.1 1828.8L238.2 1827.3L238.2 1825.8L238.2 1824.3L238.3 1822.8L238.3 1821.3L238.3 1819.8L238.4 1818.3L238.4 1816.8L238.4 1815.3L238.5 1813.8L238.5 1812.3L238.5 1810.8L238.6 1809.3L238.6 1807.8L238.6 1806.3L238.7 1804.8L238.7 1803.3L238.8 1801.8L238.8 1800.3L238.8 1798.8L238.9 1797.2L238.9 1795.7L238.9 1794.2L239.0 1792.7L239.0 1791.2L239.1 1789.7L239.1 1788.2L239.2 1786.7L239.3 1785.2L239.4 1783.7L239.4 1782.2L239.6 1780.6L239.7 1779.0L239.9 1777.4L240.1 1775.9L240.4 1774.5L240.7 1773.2L241.4 1772.0L242.6 1770.9L244.0 1770.2L245.4 1770.1L246.8 1770.0L248.4 1770.0L250.0 1770.0L530 1770.0L530.0 1770.0L531.5 1770.0L533.1 1770.0L534.6 1770.0L536.1 1770.1L537.6 1770.1L539.1 1770.1L540.6 1770.2L542.0 1770.2L543.5 1770.3L545.0 1770.5L546.5 1770.9L547.9 1771.4L549.3 1771.9L550.7 1772.5L552.0 1773.2L553.3 1774.1L554.5 1775.1L555.6 1776.1L556.5 1777.1L557.5 1778.3L558.4 1779.5L559.2 1780.9L560.0 1782.2L560.7 1783.6L561.3 1784.9L561.8 1786.3L562.3 1787.7L562.7 1789.1L563.1 1790.6L563.4 1792.0L563.8 1793.5L564.1 1795.0L564.4 1796.5L564.7 1798.0L565.1 1799.5L565.4 1800.9L565.7 1802.4L566.1 1803.8L566.4 1805.3L566.7 1806.8L567.0 1808.3L567.3 1809.7L567.6 1811.2L567.9 1812.7L568.2 1814.1L568.5 1815.6L568.8 1817.1L569.1 1818.6L569.4 1820.0L569.7 1821.5L570.0 1823.0L570.3 1824.5L570.6 1825.9L570.9 1827.4L571.2 1828.9L571.5 1830.4L571.7 1831.8L572.0 1833.3L572.3 1834.8L572.6 1836.3L572.8 1837.7L573.1 1839.2L573.3 1840.7L573.6 1842.2L573.8 1843.7L574.1 1845.1L574.3 1846.6L574.6 1848.1L574.8 1849.6L575.1 1851.1L575.3 1852.6L575.5 1854.0L575.7 1855.5L576.0 1857.0L576.2 1858.5L576.4 1860.0L576.6 1861.5L576.9 1863.0L577.1 1864.5L577.3 1865.9L577.5 1867.4L577.7 1868.9L578.0 1870.4L578.2 1871.9L578.4 1873.4L578.6 1874.9L578.8 1876.3L579.0 1877.8L579.3 1879.3L579.5 1880.8L579.7 1882.3L579.9 1883.8L580.1 1885.3L580.4 1886.8L580.6 1888.2L580.8 1889.7L581.0 1891.2L581.3 1892.7L581.5 1894.2L581.7 1895.7L581.9 1897.2L582.2 1898.6L582.4 1900.1L582.6 1901.6L582.8 1903.1L583.1 1904.6L583.3 1906.1L583.5 1907.6L583.7 1909.0L584.0 1910.5L584.2 1912.0L584.4 1913.5L584.6 1915.0L584.9 1916.5L585.1 1918.0L585.3 1919.4L585.6 1920.9L585.8 1922.4L586.0 1923.9L586.2 1925.4L586.5 1926.9L586.7 1928.4L586.9 1929.8L587.1 1931.3L587.4 1932.8L587.6 1934.3L587.8 1935.8L588.1 1937.3L588.3 1938.8L588.5 1940.2L588.7 1941.7L589.0 1943.2L589.2 1944.7L589.4 1946.2L589.6 1947.7L589.9 1949.1L590.1 1950.6L590.3 1952.1L590.5 1953.6L590.8 1955.1L591.0 1956.6L591.2 1958.1L591.4 1959.6L591.7 1961.0L591.9 1962.5L592.1 1964.0L592.3 1965.5L592.5 1967.0L592.8 1968.5L593.0 1970.0L593.2 1971.4L593.4 1972.9L593.6 1974.4L593.8 1975.9L594.1 1977.4L594.3 1978.9L594.5 1980.4L594.7 1981.9L594.9 1983.3L595.1 1984.8L595.3 1986.3L595.6 1987.8L595.8 1989.3L596.0 1990.8L596.2 1992.3L596.4 1993.8L596.6 1995.2L596.8 1996.7L597.0 1998.2L597.3 1999.7L597.5 2001.2L597.7 2002.7L597.9 2004.2L598.1 2005.7L598.3 2007.1L598.5 2008.6L598.7 2010.1L598.9 2011.6L599.1 2013.1L599.3 2014.6L599.5 2016.1L599.7 2017.6L600.0 2019.1L600.2 2020.5L600.4 2022.0L600.6 2023.5L600.8 2025.0L601.0 2026.5L601.2 2028.0L601.4 2029.5L601.6 2031.0L601.8 2032.5L602.0 2033.9L602.1 2035.4L602.3 2036.9L602.5 2038.4L602.7 2039.9L602.9 2041.4L603.1 2042.9L603.3 2044.4L603.5 2045.9L603.7 2047.4L603.9 2048.8L604.1 2050.3L604.3 2051.8L604.5 2053.3L604.7 2054.8L605.0 2056.3L605.2 2057.8L605.4 2059.3L605.6 2060.7L605.8 2062.2L606.0 2063.7L606.2 2065.2L606.5 2066.7L606.7 2068.2L606.9 2069.7L607.1 2071.2L607.3 2072.6L607.6 2074.1L607.8 2075.6L608.0 2077.1L608.2 2078.6L608.5 2080.1L608.7 2081.6L608.9 2083.0L609.1 2084.5L609.3 2086.0L609.5 2087.5L609.8 2089.0L610.0 2090.5L610.2 2092.0L610.4 2093.5L610.6 2094.9L610.8 2096.4L611.1 2097.9L611.3 2099.4L611.5 2100.9L611.7 2102.4L611.9 2103.9L612.1 2105.4L612.4 2106.8L612.6 2108.3L612.8 2109.8L613.0 2111.3L613.2 2112.8L613.4 2114.3L613.6 2115.8L613.8 2117.3L614.0 2118.7L614.2 2120.2L614.4 2121.7L614.6 2123.2L614.8 2124.7L615.0 2126.2L615.2 2127.7L615.4 2129.2L615.6 2130.7L615.8 2132.2L616.0 2133.6L616.2 2135.1L616.4 2136.6L616.6 2138.1L616.8 2139.6L616.9 2141.1L617.1 2142.6L617.3 2144.1L617.5 2145.6L617.7 2147.1L617.9 2148.6L618.1 2150.0L618.3 2151.5L618.4 2153.0L618.6 2154.5L618.8 2156.0L619.0 2157.5L619.2 2159.0L619.4 2160.5L619.5 2162.0L619.7 2163.5L619.9 2165.0L620.1 2166.4L620.3 2167.9L620.4 2169.4L620.6 2170.9L620.8 2172.4L621.0 2173.9L621.1 2175.4L621.3 2176.9L621.5 2178.4L621.7 2179.9L621.8 2181.4L622.0 2182.9L622.2 2184.4L622.4 2185.8L622.6 2187.3L622.8 2188.8L622.9 2190.3L623.1 2191.8L623.3 2193.3L623.5 2194.8L623.7 2196.3L623.9 2197.8L624.1 2199.3L624.3 2200.8L624.5 2202.2L624.7 2203.7L624.9 2205.2L625.1 2206.7L625.3 2208.2L625.5 2209.7L625.7 2211.2L625.9 2212.7L626.1 2214.2L626.3 2215.7L626.5 2217.1L626.7 2218.6L626.9 2220.1L627.0 2221.6L627.2 2223.1L627.4 2224.6L627.6 2226.1L627.8 2227.6L628.0 2229.1L628.2 2230.5L628.4 2232.0L628.6 2233.5L628.8 2235.0L629.0 2236.5L629.2 2238.0L629.4 2239.5L629.6 2241.0L629.8 2242.5L630.0 2244.0L630.2 2245.4L630.4 2246.9L630.6 2248.4L630.8 2249.9L631.0 2251.4L631.2 2252.9L631.4 2254.4L631.6 2255.9L631.8 2257.4L632.0 2258.8L632.2 2260.3L632.4 2261.8L632.6 2263.3L632.9 2264.8L633.1 2266.3L633.3 2267.8L633.5 2269.3L633.7 2270.8L633.9 2272.2L634.1 2273.7L634.3 2275.2L634.5 2276.7L634.7 2278.2L635.0 2279.7L635.2 2281.2L635.4 2282.7L635.6 2284.2L635.9 2285.6L636.1 2287.1L636.3 2288.6L636.6 2290.1L636.8 2291.6L637.0 2293.1L637.3 2294.5L637.5 2296.0L637.8 2297.5L638.1 2299.0L638.3 2300.4L638.6 2301.9L638.9 2303.4L639.2 2304.9L639.5 2306.3L639.8 2307.8L640.1 2309.3L640.4 2310.7L640.8 2312.2L641.1 2313.7L641.5 2315.1L641.8 2316.6L642.2 2318.1L642.5 2319.5L642.9 2321.0L643.2 2322.5L643.6 2323.9L643.9 2325.4L644.3 2326.8L644.6 2328.3L644.9 2329.8L645.3 2331.2L645.6 2332.7L645.9 2334.2L646.3 2335.7L646.6 2337.1L646.9 2338.6L647.2 2340.1L647.6 2341.5L647.9 2343.0L648.3 2344.5L648.6 2345.9L649.0 2347.4L649.4 2348.8L649.8 2350.3L650.1 2351.7L650.6 2353.2L651.0 2354.6L651.4 2356.0L651.9 2357.5L652.3 2358.9L652.8 2360.3L653.3 2361.8L653.8 2363.3L654.3 2364.7L654.9 2366.1L655.5 2367.5L656.1 2368.9L656.7 2370.2L657.4 2371.6L658.1 2372.8L658.8 2374.1L659.7 2375.4L660.7 2376.9L661.7 2378.3L662.8 2379.7L663.9 2381.0L665.0 2382.1L666.1 2382.9L667.2 2383.5L668.3 2383.6L669.4 2383.3L670.5 2382.7L671.6 2381.7L672.7 2380.6L673.8 2379.2L674.9 2377.8L675.9 2376.3L676.8 2374.9L677.6 2373.6L678.4 2372.4L679.0 2371.1L679.7 2369.8L680.3 2368.4L680.9 2367.0L681.5 2365.6L682.0 2364.2L682.5 2362.7L683.0 2361.3L683.5 2359.8L684.0 2358.3L684.4 2356.9L684.8 2355.5L685.3 2354.0L685.7 2352.6L686.1 2351.2L686.4 2349.7L686.8 2348.3L687.1 2346.8L687.5 2345.3L687.8 2343.9L688.1 2342.4L688.5 2340.9L688.8 2339.5L689.1 2338.0L689.4 2336.5L689.7 2335.0L690.0 2333.6L690.4 2332.1L690.7 2330.6L691.0 2329.1L691.4 2327.7L691.7 2326.2L692.0 2324.7L692.4 2323.3L692.7 2321.8L693.1 2320.4L693.4 2318.9L693.8 2317.4L694.1 2316.0L694.5 2314.5L694.8 2313.0L695.2 2311.6L695.5 2310.1L695.9 2308.7L696.2 2307.2L696.5 2305.7L696.9 2304.3L697.2 2302.8L697.5 2301.3L697.8 2299.9L698.2 2298.4L698.5 2296.9L698.8 2295.5L699.1 2294.0L699.4 2292.5L699.7 2291.1L700.1 2289.6L700.4 2288.1L700.7 2286.6L701.0 2285.2L701.3 2283.7L701.6 2282.2L701.9 2280.8L702.2 2279.3L702.5 2277.8L702.8 2276.3L703.1 2274.9L703.4 2273.4L703.7 2271.9L704.0 2270.4L704.3 2269.0L704.6 2267.5L704.9 2266.0L705.1 2264.5L705.4 2263.1L705.7 2261.6L706.0 2260.1L706.2 2258.6L706.5 2257.2L706.8 2255.7L707.0 2254.2L707.3 2252.7L707.6 2251.2L707.8 2249.8L708.1 2248.3L708.3 2246.8L708.6 2245.3L708.8 2243.8L709.1 2242.4L709.3 2240.9L709.5 2239.4L709.8 2237.9L710.0 2236.4L710.3 2234.9L710.5 2233.5L710.8 2232.0L711.0 2230.5L711.2 2229.0L711.5 2227.5L711.7 2226.0L712.0 2224.6L712.2 2223.1L712.4 2221.6L712.7 2220.1L712.9 2218.6L713.2 2217.1L713.4 2215.7L713.6 2214.2L713.9 2212.7L714.1 2211.2L714.3 2209.7L714.6 2208.2L714.8 2206.7L715.0 2205.3L715.3 2203.8L715.5 2202.3L715.8 2200.8L716.0 2199.3L716.2 2197.8L716.5 2196.4L716.7 2194.9L716.9 2193.4L717.2 2191.9L717.4 2190.4L717.7 2188.9L717.9 2187.5L718.1 2186.0L718.4 2184.5L718.6 2183.0L718.9 2181.5L719.1 2180.0L719.4 2178.6L719.6 2177.1L719.9 2175.6L720.1 2174.1L720.3 2172.6L720.6 2171.1L720.8 2169.7L721.1 2168.2L721.3 2166.7L721.6 2165.2L721.8 2163.7L722.1 2162.3L722.3 2160.8L722.5 2159.3L722.8 2157.8L723.0 2156.3L723.3 2154.8L723.5 2153.4L723.8 2151.9L724.0 2150.4L724.3 2148.9L724.5 2147.4L724.8 2145.9L725.0 2144.5L725.3 2143.0L725.5 2141.5L725.7 2140.0L726.0 2138.5L726.2 2137.1L726.5 2135.6L726.7 2134.1L727.0 2132.6L727.2 2131.1L727.5 2129.6L727.7 2128.2L727.9 2126.7L728.2 2125.2L728.4 2123.7L728.6 2122.2L728.9 2120.7L729.1 2119.2L729.3 2117.8L729.6 2116.3L729.8 2114.8L730.0 2113.3L730.2 2111.8L730.5 2110.3L730.7 2108.8L730.9 2107.4L731.1 2105.9L731.3 2104.4L731.6 2102.9L731.8 2101.4L732.0 2099.9L732.2 2098.4L732.5 2097.0L732.7 2095.5L732.9 2094.0L733.1 2092.5L733.4 2091.0L733.6 2089.5L733.8 2088.0L734.0 2086.6L734.3 2085.1L734.5 2083.6L734.7 2082.1L734.9 2080.6L735.2 2079.1L735.4 2077.6L735.6 2076.2L735.8 2074.7L736.1 2073.2L736.3 2071.7L736.5 2070.2L736.8 2068.7L737.0 2067.2L737.2 2065.8L737.5 2064.3L737.7 2062.8L737.9 2061.3L738.2 2059.8L738.4 2058.3L738.7 2056.9L738.9 2055.4L739.2 2053.9L739.4 2052.4L739.6 2050.9L739.9 2049.5L740.2 2048.0L740.4 2046.5L740.7 2045.0L741.0 2043.5L741.2 2042.1L741.5 2040.6L741.8 2039.1L742.0 2037.6L742.3 2036.1L742.6 2034.7L742.8 2033.2L743.1 2031.7L743.4 2030.2L743.6 2028.7L743.9 2027.3L744.2 2025.8L744.4 2024.3L744.7 2022.8L744.9 2021.3L745.2 2019.9L745.4 2018.4L745.7 2016.9L745.9 2015.4L746.2 2013.9L746.4 2012.5L746.7 2011.0L746.9 2009.5L747.2 2008.0L747.4 2006.5L747.7 2005.0L747.9 2003.6L748.1 2002.1L748.4 2000.6L748.6 1999.1L748.9 1997.6L749.1 1996.1L749.4 1994.7L749.6 1993.2L749.9 1991.7L750.1 1990.2L750.4 1988.7L750.6 1987.3L750.9 1985.8L751.1 1984.3L751.4 1982.8L751.6 1981.3L751.9 1979.9L752.2 1978.4L752.4 1976.9L752.7 1975.4L753.0 1973.9L753.2 1972.5L753.5 1971.0L753.8 1969.5L754.0 1968.0L754.3 1966.5L754.6 1965.1L754.8 1963.6L755.1 1962.1L755.4 1960.6L755.7 1959.2L755.9 1957.7L756.2 1956.2L756.5 1954.7L756.7 1953.2L757.0 1951.8L757.3 1950.3L757.5 1948.8L757.8 1947.3L758.1 1945.8L758.4 1944.4L758.6 1942.9L758.9 1941.4L759.2 1939.9L759.5 1938.5L759.7 1937.0L760.0 1935.5L760.3 1934.0L760.6 1932.6L760.8 1931.1L761.1 1929.6L761.4 1928.1L761.6 1926.6L761.9 1925.2L762.2 1923.7L762.4 1922.2L762.7 1920.7L763.0 1919.2L763.2 1917.8L763.5 1916.3L763.8 1914.8L764.0 1913.3L764.3 1911.8L764.5 1910.4L764.8 1908.9L765.0 1907.4L765.2 1905.9L765.5 1904.4L765.7 1902.9L766.0 1901.5L766.2 1900.0L766.4 1898.5L766.7 1897.0L766.9 1895.5L767.1 1894.0L767.4 1892.6L767.6 1891.1L767.9 1889.6L768.1 1888.1L768.3 1886.6L768.6 1885.1L768.8 1883.7L769.1 1882.2L769.3 1880.7L769.6 1879.2L769.9 1877.7L770.1 1876.3L770.4 1874.8L770.6 1873.3L770.9 1871.8L771.1 1870.3L771.4 1868.9L771.7 1867.4L771.9 1865.9L772.2 1864.4L772.4 1862.9L772.7 1861.5L773.0 1860.0L773.2 1858.5L773.5 1857.0L773.7 1855.5L774.0 1854.1L774.2 1852.6L774.5 1851.1L774.8 1849.6L775.0 1848.1L775.3 1846.6L775.5 1845.2L775.8 1843.7L776.0 1842.2L776.2 1840.7L776.5 1839.2L776.7 1837.7L777.0 1836.3L777.2 1834.8L777.4 1833.3L777.7 1831.8L777.9 1830.3L778.1 1828.8L778.4 1827.4L778.6 1825.9L778.8 1824.4L779.1 1822.9L779.3 1821.4L779.6 1819.9L779.8 1818.5L780.1 1817.0L780.3 1815.5L780.6 1814.0L780.8 1812.5L781.1 1811.0L781.3 1809.5L781.6 1808.1L781.8 1806.6L782.1 1805.1L782.4 1803.6L782.6 1802.1L782.9 1800.6L783.2 1799.2L783.5 1797.7L783.8 1796.2L784.2 1794.8L784.5 1793.3L784.9 1791.9L785.3 1790.4L785.7 1789.0L786.2 1787.5L786.7 1786.0L787.2 1784.6L787.8 1783.2L788.4 1781.8L789.0 1780.5L789.7 1779.3L790.5 1778.0L791.4 1776.6L792.4 1775.3L793.5 1774.0L794.6 1773.0L795.8 1772.2L797.0 1771.7L798.3 1771.4L799.7 1771.1L801.1 1770.9L802.6 1770.6L804.2 1770.4L805.8 1770.3L807.3 1770.1L808.9 1770.1L810.5 1770.0L812.0 1770.0L813.5 1770.0L815.0 1770.0L816.5 1770.0L818.0 1770.0L819.5 1770.0L821.0 1770.0L822.5 1770.0L824.0 1770.0L825.5 1770.0L827.0 1770.0L828.5 1770.0L830.0 1770.0L1400 1770.0L1400.0 1770.0L1401.5 1770.0L1403.0 1770.0L1404.6 1770.0L1406.1 1770.0L1407.6 1770.0L1409.1 1770.0L1410.7 1770.0L1412.2 1770.0L1413.7 1770.0L1415.2 1770.0L1416.7 1770.0L1418.3 1770.0L1419.8 1770.0L1421.3 1770.0L1422.8 1770.1L1424.3 1770.1L1425.9 1770.1L1427.4 1770.1L1428.9 1770.1L1430.4 1770.1L1431.9 1770.1L1433.5 1770.2L1435.0 1770.3L1436.5 1770.4L1438.0 1770.6L1439.5 1770.7L1441.0 1770.9L1442.5 1771.0L1444.1 1771.2L1445.6 1771.4L1447.1 1771.5L1448.6 1771.7L1450.1 1771.8L1451.6 1772.0L1453.1 1772.2L1454.7 1772.4L1456.2 1772.6L1457.7 1772.8L1459.2 1773.0L1460.7 1773.2L1462.2 1773.4L1463.7 1773.5L1465.2 1773.6L1466.8 1773.6L1468.3 1773.6L1469.8 1773.5L1471.3 1773.4L1472.8 1773.2L1474.3 1773.0L1475.8 1772.7L1477.3 1772.4L1478.8 1772.2L1480.3 1771.9L1481.8 1771.6L1483.3 1771.3L1484.8 1771.0L1486.3 1770.8L1487.8 1770.5L1489.3 1770.1L1490.8 1769.8L1492.3 1769.5L1493.8 1769.1L1495.3 1768.8L1496.8 1768.6L1498.2 1768.3L1499.8 1768.1L1501.3 1768.0L1502.8 1767.8L1504.3 1767.7L1505.8 1767.5L1507.3 1767.4L1508.8 1767.3L1510.4 1767.3L1511.9 1767.2L1513.4 1767.2L1514.9 1767.2L1516.4 1767.3L1518.0 1767.4L1519.5 1767.6L1521.0 1767.7L1522.5 1767.9L1524.0 1768.0L1525.5 1768.2L1527.0 1768.4L1528.6 1768.5L1530.1 1768.6L1531.6 1768.7L1533.1 1768.8L1534.6 1768.9L1536.1 1769.0L1537.7 1769.2L1539.2 1769.3L1540.7 1769.4L1542.2 1769.5L1543.7 1769.6L1545.3 1769.7L1546.8 1769.8L1548.3 1769.8L1549.8 1769.9L1551.3 1769.9L1552.9 1770.0L1554.4 1770.0L1555.9 1770.0L1557.4 1770.0L1558.9 1770.0L1560.5 1770.0L1562.0 1770.0L1563.5 1770.0L1565.0 1770.0L1566.5 1770.0L1568.1 1770.0L1569.6 1770.0L1571.1 1770.0L1572.6 1770.0L1574.1 1770.0L1575.7 1770.0L1577.2 1770.0L1578.7 1770.0L1580.2 1770.0L1581.7 1770.0L1583.3 1770.0L1584.8 1770.0L1586.3 1770.0L1587.8 1770.0L1589.3 1770.0L1590.9 1770.0L1592.4 1770.0L1593.9 1770.0L1595.4 1770.0L1597.0 1770.0L1598.5 1770.0L1600.0 1770.0L1860.5 1770.0" stroke="#0000ff" stroke-width="9.6" fill="none" stroke-linejoin="round"/>
<path d="M242.9 1775.0L244.4 1774.8L245.9 1774.6L247.4 1774.3L249.0 1774.0L250.5 1773.8L251.8 1774.0L253.1 1774.9L254.4 1776.0L255.6 1777.0L256.8 1778.2L258.0 1779.3L259.2 1779.6L260.6 1779.2L262.1 1778.5L263.4 1777.7L264.7 1776.8L265.9 1775.9L267.1 1774.9L268.4 1774.1L269.7 1773.3L271.0 1772.5L272.3 1771.8L273.8 1771.1L275.2 1770.6L276.7 1770.4L278.2 1770.5L279.0 1770.5M288.8 1772.5L290.2 1772.8L291.6 1773.3L293.1 1773.7L294.6 1774.2L296.0 1774.6L297.5 1774.9L299.0 1775.1L300.5 1775.3L302.0 1775.5L303.6 1775.6L305.1 1775.8L306.6 1775.8L308.1 1775.8L309.7 1775.6L311.2 1775.4L312.7 1775.1L314.2 1774.8L315.7 1774.5L317.2 1774.2L318.7 1773.8L320.2 1773.4L321.7 1773.0L323.2 1772.7L324.6 1772.6M330.6 1774.4L331.9 1774.3L333.4 1774.1L335.0 1773.8L336.5 1773.5L338.0 1773.3L339.5 1773.2L341.0 1773.2L342.5 1773.4L344.0 1773.7L345.5 1774.0L347.0 1774.4L348.5 1774.8L349.9 1775.1M356.1 1776.1L357.5 1775.9L359.0 1775.7L360.5 1775.4L362.0 1775.2L363.5 1775.0L365.1 1774.7L366.6 1774.5L368.1 1774.3L369.6 1774.0L371.1 1773.9L372.6 1773.7L374.1 1773.6L375.7 1773.4L377.2 1773.3L378.7 1773.2L380.2 1773.0L381.7 1773.0L383.3 1772.9L384.8 1772.8L386.3 1772.7L387.8 1772.6L389.4 1772.5L390.9 1772.5L392.3 1772.5M398.8 1773.2L400.0 1773.4L402.0 1772.8L404.0 1772.8L406.0 1772.8L408.0 1772.8L410.0 1772.7L412.0 1772.6L414.0 1772.6L416.0 1772.5L418.0 1772.4L418.7 1772.3M425.0 1772.3L426.0 1772.3L428.0 1772.3L430.0 1772.4L432.0 1772.4L434.0 1772.5L436.0 1772.5L438.0 1772.5L440.0 1772.6L442.0 1772.6L444.0 1772.6L446.0 1772.6L448.0 1772.6L450.0 1772.7L452.0 1772.7L454.0 1772.7L456.0 1772.8L458.0 1773.0L459.1 1773.1M465.5 1773.9L466.0 1774.0L468.0 1774.2L470.0 1774.5L472.0 1774.6L474.0 1774.7L476.0 1774.8L478.0 1774.8L480.0 1774.8L482.0 1774.7L484.0 1774.6L486.0 1774.5L486.5 1774.4M493.1 1773.8L494.0 1773.7L496.0 1773.6L498.0 1773.4L500.0 1773.3L502.0 1773.1L504.0 1773.0L506.0 1772.8L508.0 1772.7L510.0 1772.6L512.0 1772.5L514.0 1772.4L516.0 1772.3L518.0 1772.3L520.0 1772.3L522.0 1772.3L524.0 1772.4L526.0 1772.5L528.0 1772.5L528.9 1772.6M535.1 1772.7L536.0 1772.7L538.0 1772.7L540.0 1773.3L541.6 1773.3L543.1 1773.5L544.6 1773.6L546.0 1773.8L547.4 1774.1L548.9 1774.6L550.2 1775.2L551.6 1776.0L552.7 1776.8M557.2 1780.9L557.3 1780.9L558.2 1782.1L559.1 1783.3L559.9 1784.6L560.7 1785.9L561.5 1787.2L562.1 1788.5L562.7 1789.9L563.1 1791.3L563.6 1792.7L564.0 1794.2L564.4 1795.7L564.7 1797.1L565.1 1798.6L565.4 1800.1L565.7 1801.5L566.1 1803.0L566.4 1804.5L566.7 1805.9L567.0 1807.4L567.3 1808.9L567.5 1810.4L567.8 1811.8L568.1 1813.3L568.1 1813.3M569.3 1819.5L569.5 1820.7L569.8 1822.2L570.1 1823.6L570.4 1825.1L570.7 1826.6L571.0 1828.1L571.3 1829.5L571.6 1831.0L571.8 1832.5L572.1 1834.0L572.4 1835.4L572.7 1836.9L572.9 1838.4L573.0 1838.8M574.1 1845.3L574.2 1845.8L574.4 1847.3L574.7 1848.8L574.9 1850.2L575.2 1851.7L575.4 1853.2L575.6 1854.7L575.8 1856.2L576.1 1857.7L576.3 1859.2L576.5 1860.6L576.7 1862.1L577.0 1863.6L577.2 1865.1L577.4 1866.6L577.6 1868.1L577.8 1869.6L578.0 1871.0L578.3 1872.5L578.5 1874.0L578.7 1875.5L578.9 1877.0L579.1 1878.5L579.3 1880.0L579.6 1881.4L579.7 1882.7M580.7 1889.1L580.9 1890.4L581.1 1891.8L581.4 1893.3L581.6 1894.8L581.8 1896.3L582.0 1897.8L582.3 1899.3L582.5 1900.8L582.7 1902.2L582.9 1903.7L583.2 1905.2L583.4 1906.7L583.6 1908.1M584.6 1914.5L584.7 1915.6L585.0 1917.1L585.2 1918.6L585.4 1920.1L585.7 1921.5L585.9 1923.0L586.1 1924.5L586.3 1926.0L586.6 1927.5L586.8 1929.0L587.0 1930.5L587.2 1931.9L587.5 1933.4L587.7 1934.9L587.9 1936.4L588.2 1937.9L588.4 1939.4L588.6 1940.8L588.8 1942.3L589.1 1943.8L589.3 1945.3L589.5 1946.8L589.7 1948.3L590.0 1949.8L590.2 1951.0M591.1 1957.5L591.3 1958.7L591.5 1960.2L591.7 1961.6L592.0 1963.1L592.2 1964.6L592.4 1966.1L592.6 1967.6L592.8 1969.1L593.1 1970.6L593.3 1972.0L593.5 1973.5L593.7 1975.0L593.9 1976.5L594.0 1976.9M594.9 1983.4L595.0 1983.9L595.2 1985.4L595.4 1986.9L595.6 1988.4L595.9 1989.9L596.1 1991.4L596.3 1992.9L596.5 1994.3L596.7 1995.8L596.9 1997.3L597.1 1998.8L597.3 2000.3L597.5 2001.8L597.8 2003.3L598.0 2004.8L598.2 2006.2L598.4 2007.7L598.6 2009.2L598.8 2010.7L599.0 2012.2L599.2 2013.7L599.4 2015.2L599.6 2016.7L599.8 2018.1L600.0 2019.6L600.2 2020.8M601.1 2027.3L601.2 2028.6L601.4 2030.0L601.6 2031.5L601.8 2033.0L602.0 2034.5L602.2 2036.0L602.4 2037.5L602.6 2039.0L602.8 2040.5L603.0 2042.0L603.2 2043.5L603.4 2044.9L603.6 2046.4M604.5 2052.7L604.6 2053.9L604.8 2055.4L605.0 2056.8L605.2 2058.3L605.5 2059.8L605.7 2061.3L605.9 2062.8L606.1 2064.3L606.3 2065.8L606.5 2067.2L606.8 2068.7L607.0 2070.2L607.2 2071.7L607.4 2073.2L607.6 2074.7L607.9 2076.2L608.1 2077.7L608.3 2079.1L608.5 2080.6L608.8 2082.1L609.0 2083.6L609.2 2085.1L609.4 2086.6L609.6 2088.1L609.8 2089.3M610.7 2095.8L610.9 2097.0L611.1 2098.5L611.4 2099.9L611.6 2101.4L611.8 2102.9L612.0 2104.4L612.2 2105.9L612.4 2107.4L612.6 2108.9L612.9 2110.4L613.1 2111.8L613.3 2113.3L613.5 2114.8L613.5 2115.2M614.4 2121.7L614.5 2122.3L614.7 2123.7L614.9 2125.2L615.1 2126.7L615.3 2128.2L615.5 2129.7L615.7 2131.2L615.9 2132.7L616.1 2134.2L616.3 2135.7L616.4 2137.1L616.6 2138.6L616.8 2140.1L617.0 2141.6L617.2 2143.1L617.4 2144.6L617.6 2146.1L617.8 2147.6L617.9 2149.1L618.1 2150.6L618.3 2152.1L618.5 2153.5L618.7 2155.0L618.9 2156.5L619.1 2158.0L619.2 2159.2M620.0 2165.7L620.1 2167.0L620.3 2168.5L620.5 2169.9L620.7 2171.4L620.8 2172.9L621.0 2174.4L621.2 2175.9L621.4 2177.4L621.5 2178.9L621.7 2180.4L621.9 2181.9L622.1 2183.4L622.3 2184.9L622.3 2185.3M623.1 2191.8L623.2 2192.3L623.4 2193.8L623.6 2195.3L623.8 2196.8L624.0 2198.3L624.2 2199.8L624.3 2201.2L624.5 2202.7L624.7 2204.2L624.9 2205.7L625.1 2207.2L625.3 2208.7L625.5 2210.2L625.7 2211.7L625.9 2213.2L626.1 2214.7L626.3 2216.1L626.5 2217.6L626.7 2219.1L626.9 2220.6L627.1 2222.1L627.3 2223.6L627.5 2225.1L627.7 2226.6L627.9 2228.0L628.1 2229.3M628.9 2235.7L629.1 2237.0L629.3 2238.5L629.5 2240.0L629.7 2241.5L629.9 2242.9L630.1 2244.4L630.3 2245.9L630.5 2247.4L630.7 2248.9L630.9 2250.4L631.1 2251.9L631.3 2253.4L631.5 2254.8M632.3 2261.1L632.5 2262.3L632.7 2263.8L632.9 2265.3L633.1 2266.8L633.3 2268.2L633.5 2269.7L633.7 2271.2L633.9 2272.7L634.2 2274.2L634.4 2275.7L634.6 2277.2L634.8 2278.7L635.0 2280.2L635.2 2281.6L635.4 2283.1L635.7 2284.6L635.9 2286.1L636.1 2287.6L636.4 2289.1L636.6 2290.6L636.8 2292.0L637.1 2293.5L637.3 2295.0L637.6 2296.5L637.8 2297.7M639.1 2304.2L639.3 2305.3L639.6 2306.8L639.9 2308.2L640.3 2309.7L640.6 2311.2L641.0 2312.6L641.4 2314.1L641.7 2315.5L642.1 2317.0L642.5 2318.4L642.9 2319.9L643.2 2321.4L643.6 2322.8L643.9 2323.9M645.5 2330.1L645.5 2330.1L645.9 2331.5L646.3 2333.0L646.6 2334.4L647.0 2335.9L647.4 2337.4L647.8 2338.8L648.2 2340.3L648.6 2341.7L649.0 2343.1L649.5 2344.6L649.9 2346.0L650.3 2347.5L650.8 2348.9L651.2 2350.3L651.7 2351.8L652.2 2353.2L652.6 2354.6L653.1 2356.1L653.6 2357.5L654.2 2358.9L654.7 2360.3L655.3 2361.7L655.8 2363.1L655.8 2363.1M658.9 2369.3L659.3 2369.9L660.1 2371.2L661.0 2372.3L662.0 2373.2L663.2 2374.2L664.6 2375.1L666.0 2375.8L667.4 2376.2L668.8 2376.2L670.2 2375.8L671.7 2375.1L673.0 2374.2L674.2 2373.2L675.2 2372.3L676.1 2371.2L676.8 2369.9L677.2 2369.2M680.2 2362.1L680.5 2361.4L681.0 2360.0L681.4 2358.6L681.9 2357.1L682.3 2355.7L682.7 2354.2L683.1 2352.8L683.5 2351.3L683.9 2349.9L684.3 2348.4L684.7 2347.0L685.0 2345.5L685.4 2344.1L685.7 2342.6L686.1 2341.1L686.4 2339.7L686.7 2338.2L687.0 2336.7L687.4 2335.3L687.7 2333.8L688.0 2332.3L688.3 2330.9L688.7 2329.4L689.0 2327.9L689.3 2326.5L689.6 2325.0L689.9 2323.5L690.3 2322.1L690.6 2320.6L690.7 2319.9M692.1 2313.4L692.1 2313.2L692.5 2311.8L692.8 2310.3L693.1 2308.8L693.4 2307.4L693.7 2305.9L694.0 2304.4L694.3 2302.9L694.6 2301.5L694.9 2300.0L695.2 2298.5L695.5 2297.1M696.6 2291.6L696.7 2291.2L697.1 2289.7L697.5 2288.3L697.8 2286.8L698.2 2285.4L698.6 2283.9L699.0 2282.5L699.4 2281.0L699.8 2279.6L700.2 2278.1L700.6 2276.7L701.0 2275.2L701.5 2273.8L701.9 2272.3L702.3 2270.9L702.7 2269.4L703.1 2268.0L703.5 2266.5L703.9 2265.1L704.2 2263.6L704.6 2262.2L704.9 2260.7L705.0 2260.5M706.3 2254.6L706.5 2253.4L706.8 2251.9L707.1 2250.4L707.4 2249.0L707.6 2247.5L707.9 2246.0L708.2 2244.5L708.4 2243.0L708.7 2241.6L709.0 2240.1L709.2 2238.6L709.5 2237.1L709.7 2235.6L709.8 2235.2M710.9 2228.8L711.0 2228.2L711.3 2226.8L711.5 2225.3L711.8 2223.8L712.0 2222.3L712.2 2220.8L712.5 2219.4L712.7 2217.9L713.0 2216.4L713.2 2214.9L713.5 2213.4L713.7 2211.9L713.9 2210.5L714.2 2209.0L714.4 2207.5L714.7 2206.0L714.9 2204.5L715.1 2203.0L715.4 2201.6L715.6 2200.1L715.9 2198.6L716.1 2197.1L716.3 2195.6L716.6 2194.1L716.8 2192.7L717.0 2191.5M718.1 2185.0L718.3 2183.8L718.6 2182.3L718.8 2180.8L719.1 2179.3L719.4 2177.9L719.6 2176.4L719.9 2174.9L720.1 2173.4L720.4 2171.9L720.7 2170.5L720.9 2169.0L721.2 2167.5L721.4 2166.0L721.5 2165.6M722.6 2159.2L722.7 2158.6L722.9 2157.1L723.2 2155.7L723.4 2154.2L723.7 2152.7L723.9 2151.2L724.2 2149.7L724.4 2148.2L724.7 2146.8L724.9 2145.3L725.1 2143.8L725.4 2142.3L725.6 2140.8L725.9 2139.4L726.1 2137.9L726.4 2136.4L726.6 2134.9L726.8 2133.4L727.1 2131.9L727.3 2130.5L727.6 2129.0L727.8 2127.5L728.0 2126.0L728.3 2124.5L728.5 2123.0L728.7 2121.8M729.7 2115.4L729.9 2114.1L730.1 2112.7L730.3 2111.2L730.6 2109.7L730.8 2108.2L731.0 2106.7L731.2 2105.2L731.4 2103.7L731.7 2102.3L731.9 2100.8L732.1 2099.3L732.3 2097.8L732.5 2096.4M733.5 2090.0L733.7 2088.9L733.9 2087.4L734.1 2085.9L734.4 2084.4L734.6 2082.9L734.8 2081.5L735.0 2080.0L735.3 2078.5L735.5 2077.0L735.7 2075.5L735.9 2074.0L736.2 2072.6L736.4 2071.1L736.6 2069.6L736.9 2068.1L737.1 2066.6L737.3 2065.1L737.6 2063.6L737.8 2062.2L738.0 2060.7L738.3 2059.2L738.5 2057.7L738.8 2056.2L739.0 2054.8L739.2 2053.5M740.3 2047.1L740.5 2045.9L740.8 2044.4L741.1 2042.9L741.3 2041.4L741.6 2040.0L741.9 2038.5L742.1 2037.0L742.4 2035.5L742.7 2034.0L742.9 2032.6L743.2 2031.1L743.5 2029.6L743.7 2028.1L743.8 2027.7M744.9 2021.3L745.0 2020.7L745.3 2019.3L745.5 2017.8L745.8 2016.3L746.0 2014.8L746.3 2013.3L746.5 2011.8L746.8 2010.4L747.0 2008.9L747.3 2007.4L747.5 2005.9L747.8 2004.4L748.0 2003.0L748.2 2001.5L748.5 2000.0L748.7 1998.5L749.0 1997.0L749.2 1995.5L749.5 1994.1L749.7 1992.6L750.0 1991.1L750.2 1989.6L750.5 1988.1L750.7 1986.7L751.0 1985.2L751.2 1984.0M752.3 1977.6L752.5 1976.3L752.8 1974.8L753.1 1973.3L753.3 1971.9L753.6 1970.4L753.9 1968.9L754.1 1967.4L754.4 1966.0L754.7 1964.5L754.9 1963.0L755.2 1961.5L755.5 1960.0L755.7 1958.6M756.9 1952.3L757.1 1951.2L757.4 1949.7L757.7 1948.2L757.9 1946.8L758.2 1945.3L758.5 1943.8L758.7 1942.3L759.0 1940.8L759.3 1939.4L759.6 1937.9L759.8 1936.4L760.1 1934.9L760.4 1933.5L760.7 1932.0L760.9 1930.5L761.2 1929.0L761.5 1927.5L761.7 1926.1L762.0 1924.6L762.3 1923.1L762.5 1921.6L762.8 1920.2L763.1 1918.7L763.3 1917.2L763.6 1915.9M764.6 1909.5L764.9 1908.3L765.1 1906.8L765.3 1905.4L765.6 1903.9L765.8 1902.4L766.0 1900.9L766.3 1899.4L766.5 1897.9L766.8 1896.5L767.0 1895.0L767.2 1893.5L767.5 1892.0L767.7 1890.5L767.8 1890.1M768.8 1883.6L768.9 1883.1L769.2 1881.6L769.4 1880.2L769.7 1878.7L769.9 1877.2L770.2 1875.7L770.5 1874.2L770.7 1872.8L771.0 1871.3L771.2 1869.8L771.5 1868.3L771.8 1866.8L772.0 1865.4L772.3 1863.9L772.5 1862.4L772.8 1860.9L773.1 1859.4L773.3 1858.0L773.6 1856.5L773.8 1855.0L774.1 1853.5L774.3 1852.0L774.6 1850.6L774.8 1849.1L775.1 1847.6L775.3 1846.4M776.4 1840.0L776.6 1838.7L776.8 1837.2L777.0 1835.7L777.3 1834.2L777.5 1832.8L777.7 1831.3L778.0 1829.8L778.2 1828.3L778.4 1826.8L778.7 1825.3L778.9 1823.9L779.2 1822.4L779.4 1821.0M780.5 1814.6L780.7 1813.5L780.9 1812.0L781.2 1810.5L781.4 1809.0L781.7 1807.5L782.0 1806.1L782.2 1804.6L782.5 1803.1L782.8 1801.6L783.1 1800.1L783.4 1798.7L783.8 1797.2L784.1 1795.8L784.5 1794.3L784.9 1792.9L785.3 1791.5L785.8 1790.0L786.3 1788.6L786.8 1787.2L787.4 1785.8L788.0 1784.4L788.6 1783.0L789.2 1781.7L789.9 1780.4L790.6 1779.2M794.9 1774.2L795.7 1773.4L797.0 1772.5L798.3 1771.9L799.7 1771.4L801.1 1771.0L802.6 1770.7L804.1 1770.5L805.6 1770.3L807.1 1770.2L808.6 1770.2L810.1 1770.5L811.5 1771.0L812.9 1771.5L814.0 1771.9M819.9 1773.2L820.0 1773.2L821.5 1772.9L823.0 1772.6L824.5 1772.3L826.0 1771.9L827.5 1771.5L828.9 1771.3L830.4 1771.2L831.9 1771.4L833.4 1771.7L834.8 1772.1L836.3 1772.5L837.7 1772.9L839.2 1773.4L840.6 1773.8L842.1 1774.0L843.6 1774.2L845.1 1774.3L846.6 1774.4L848.1 1774.4L849.6 1774.3L851.1 1774.0L851.3 1773.9M857.3 1773.0L858.5 1772.9L860.0 1772.8L862.0 1772.7L864.0 1772.9L866.0 1773.0L868.0 1773.2L870.0 1773.3L872.0 1773.4L874.0 1773.4L876.0 1773.5L876.7 1773.5M883.4 1773.4L884.0 1773.4L886.0 1773.4L888.0 1773.4L890.0 1773.4L892.0 1773.4L894.0 1773.5L896.0 1773.5L898.0 1773.6L900.0 1773.6L902.0 1773.7L904.0 1773.7L906.0 1773.8L908.0 1773.8L910.0 1773.8L912.0 1773.8L914.0 1773.8L916.0 1773.8L918.0 1773.8L920.0 1773.8L922.0 1773.8L922.6 1773.8M929.3 1773.9L930.0 1773.9L932.0 1774.0L934.0 1774.1L936.0 1774.2L938.0 1774.3L940.0 1774.3L942.0 1774.4L944.0 1774.5L946.0 1774.5L948.0 1774.5L948.7 1774.5M955.2 1774.3L956.0 1774.3L958.0 1774.2L960.0 1774.1L962.0 1774.0L964.0 1774.0L966.0 1773.9L968.0 1773.8L970.0 1773.8L972.0 1773.8L974.0 1773.8L976.0 1773.8L978.0 1773.8L980.0 1773.9L982.0 1773.9L984.0 1773.9L986.0 1773.9L988.0 1773.9L990.0 1773.9L992.0 1773.9L992.7 1773.8M999.2 1773.7L1000.0 1773.7L1002.0 1773.6L1004.0 1773.6L1006.0 1773.6L1008.0 1773.6L1010.0 1773.6L1012.0 1773.7L1014.0 1773.7L1016.0 1773.8L1018.0 1773.9L1018.1 1773.9M1024.4 1774.1L1026.0 1774.2L1028.0 1774.2L1030.0 1774.2L1032.0 1774.2L1034.0 1774.2L1036.0 1774.2L1038.0 1774.1L1040.0 1774.1L1042.0 1774.0L1044.0 1773.9L1046.0 1773.8L1048.0 1773.7L1050.0 1773.6L1052.0 1773.6L1054.0 1773.6L1056.0 1773.6L1058.0 1773.6L1060.0 1773.6L1060.8 1773.6M1067.3 1773.6L1068.0 1773.6L1070.0 1773.6L1072.0 1773.6L1074.0 1773.5L1076.0 1773.5L1078.0 1773.4L1080.0 1773.3L1082.0 1773.3L1084.0 1773.2L1086.0 1773.2L1086.8 1773.2M1093.3 1773.2L1094.0 1773.2L1096.0 1773.3L1098.0 1773.4L1100.0 1773.6L1102.0 1773.8L1104.0 1774.0L1106.0 1774.3L1108.0 1774.5L1110.0 1774.6L1112.0 1774.8L1114.0 1774.8L1116.0 1774.9L1118.0 1774.9L1120.0 1774.8L1122.0 1774.8L1124.0 1774.7L1126.0 1774.6L1128.0 1774.4L1130.0 1774.3L1130.8 1774.2M1137.2 1773.8L1138.0 1773.8L1140.0 1773.7L1142.0 1773.7L1144.0 1773.6L1146.0 1773.6L1148.0 1773.6L1150.0 1773.6L1152.0 1773.5L1154.0 1773.5L1156.0 1773.4L1156.8 1773.4M1163.3 1773.2L1164.0 1773.2L1166.0 1773.1L1168.0 1773.0L1170.0 1772.9L1172.0 1772.9L1174.0 1772.8L1176.0 1772.8L1178.0 1772.7L1180.0 1772.7L1182.0 1772.7L1184.0 1772.8L1186.0 1772.8L1188.0 1772.9L1190.0 1773.0L1192.0 1773.1L1194.0 1773.2L1196.0 1773.3L1198.0 1773.4L1200.0 1773.5L1200.8 1773.6M1207.3 1773.9L1208.0 1773.9L1210.0 1774.0L1212.0 1774.1L1214.0 1774.1L1216.0 1774.1L1218.0 1774.2L1220.0 1774.2L1222.0 1774.2L1224.0 1774.1L1226.0 1774.1L1226.8 1774.0M1233.3 1773.7L1234.0 1773.6L1236.0 1773.4L1238.0 1773.3L1240.0 1773.1L1242.0 1773.0L1244.0 1772.9L1246.0 1772.8L1248.0 1772.7L1250.0 1772.6L1252.0 1772.6L1254.0 1772.5L1256.0 1772.6L1258.0 1772.6L1260.0 1772.6L1262.0 1772.7L1264.0 1772.8L1266.0 1772.8L1268.0 1772.9L1270.0 1773.0L1270.7 1773.0M1277.2 1773.3L1278.0 1773.3L1280.0 1773.4L1282.0 1773.5L1284.0 1773.6L1286.0 1773.7L1288.0 1773.9L1290.0 1774.0L1292.0 1774.2L1294.0 1774.4L1296.0 1774.5L1296.1 1774.5M1302.4 1775.0L1304.0 1775.1L1306.0 1775.2L1308.0 1775.3L1310.0 1775.3L1312.0 1775.2L1314.0 1775.2L1316.0 1775.1L1318.0 1775.0L1320.0 1774.8L1322.0 1774.6L1324.0 1774.4L1326.0 1774.3L1328.0 1774.1L1330.0 1773.9L1332.0 1773.8L1334.0 1773.6L1336.0 1773.5L1338.0 1773.4L1338.8 1773.4M1345.3 1773.4L1346.0 1773.4L1348.0 1773.4L1350.0 1773.5L1352.0 1773.6L1354.0 1773.6L1356.0 1773.7L1358.0 1773.8L1360.0 1773.8L1362.0 1773.9L1364.0 1773.9L1364.8 1773.9M1371.3 1773.9L1372.0 1773.9L1374.0 1773.8L1376.0 1773.7L1378.0 1773.6L1380.0 1773.5L1382.0 1773.4L1384.0 1773.3L1386.0 1773.2L1388.0 1773.2L1390.0 1773.2L1392.0 1773.2L1394.0 1773.2L1396.0 1773.2L1398.0 1773.2L1400.0 1773.2L1402.0 1773.2L1404.0 1773.3L1406.0 1773.3L1408.0 1773.4L1408.8 1773.4M1415.2 1773.6L1416.0 1773.7L1418.0 1773.7L1420.0 1773.8L1422.0 1773.8L1424.0 1773.9L1426.0 1773.9L1428.0 1774.0L1430.0 1774.0L1432.0 1774.0L1434.0 1774.1L1434.7 1774.1M1441.1 1774.0L1442.0 1773.8L1443.5 1773.9L1445.0 1774.1L1446.6 1774.2L1448.1 1774.4L1449.6 1774.6L1451.1 1774.7L1452.6 1774.9L1454.1 1775.1L1455.7 1775.3L1457.2 1775.5L1458.7 1775.7L1460.2 1775.9L1461.7 1776.1L1463.2 1776.3L1464.8 1776.4L1466.3 1776.5L1467.8 1776.6L1469.3 1776.5L1470.8 1776.4L1472.3 1776.1L1473.8 1775.8L1475.4 1775.5L1476.8 1775.2L1478.1 1774.9M1484.3 1773.1L1485.7 1772.8L1487.1 1772.4L1488.6 1772.0L1490.1 1771.7L1491.6 1771.3L1493.1 1770.9L1494.6 1770.6L1496.1 1770.2L1497.5 1769.9L1499.0 1769.5L1500.5 1769.2L1502.0 1768.7L1502.9 1768.5M1509.1 1767.0L1509.4 1767.0L1510.9 1766.7L1512.4 1766.6L1513.9 1766.6L1515.5 1766.8L1517.0 1767.1L1518.5 1767.5L1519.9 1767.9L1521.3 1768.5L1522.7 1769.2L1524.1 1769.9L1525.5 1770.4L1526.9 1770.9L1528.4 1771.3L1529.9 1771.6L1531.5 1771.8L1533.0 1771.8L1534.5 1771.7L1536.0 1771.5L1537.5 1771.3L1539.1 1771.2L1540.6 1771.2L1542.1 1771.3L1543.6 1771.6L1545.0 1771.9M1551.4 1772.9L1552.7 1773.1L1554.2 1773.3L1555.7 1773.5L1557.2 1773.6L1558.7 1773.6L1560.2 1773.2L1561.6 1772.7L1563.1 1772.1L1564.5 1771.4L1566.0 1770.9L1567.5 1770.6L1569.0 1770.6L1570.5 1770.7L1570.6 1770.7M1577.1 1771.6L1578.1 1771.7L1579.6 1772.0L1581.0 1772.4L1582.5 1772.8L1584.0 1773.2L1586.0 1774.1L1588.0 1774.2L1590.0 1774.2L1592.0 1774.2L1594.0 1774.2L1596.0 1774.2L1598.0 1774.2L1600.0 1774.2L1602.0 1774.2L1604.0 1774.1L1606.0 1774.1L1608.0 1774.1L1610.0 1774.0L1612.0 1773.9L1614.1 1773.8L1614.8 1773.8M1621.2 1773.6L1622.1 1773.6L1624.1 1773.5L1626.1 1773.5L1628.1 1773.5L1630.1 1773.5L1632.1 1773.5L1634.1 1773.5L1636.1 1773.6L1638.1 1773.7L1640.1 1773.8L1640.2 1773.8M1646.5 1773.9L1648.1 1773.9L1650.1 1773.9L1652.1 1773.8L1654.1 1773.7L1656.1 1773.6L1658.1 1773.5L1660.1 1773.3L1662.1 1773.2L1664.1 1773.0L1666.1 1772.9L1668.1 1772.8L1670.2 1772.7L1672.2 1772.6L1674.2 1772.6L1676.2 1772.7L1678.2 1772.7L1680.2 1772.8L1682.2 1773.0L1683.0 1773.0M1689.3 1773.6L1690.2 1773.7L1692.2 1773.8L1694.2 1773.9L1696.2 1773.9L1698.2 1773.9L1700.2 1773.9L1702.2 1773.9L1704.2 1773.8L1706.2 1773.8L1708.2 1773.7L1708.3 1773.7M1714.6 1773.4L1716.2 1773.3L1718.2 1773.2L1720.2 1773.1L1722.2 1773.1L1724.3 1773.1L1726.3 1773.0L1728.3 1773.1L1730.3 1773.1L1732.3 1773.2L1734.3 1773.3L1736.3 1773.3L1738.3 1773.5L1740.3 1773.6L1742.3 1773.7L1744.3 1773.8L1746.3 1773.9L1748.3 1774.1L1750.3 1774.2L1751.1 1774.2M1757.6 1774.6L1758.3 1774.6L1760.3 1774.7L1762.3 1774.8L1764.3 1774.8L1766.3 1774.9L1768.3 1774.9L1770.3 1774.9L1772.3 1774.9L1774.3 1774.9L1776.3 1774.9L1777.1 1774.9M1783.6 1774.8L1784.4 1774.8L1786.4 1774.8L1788.4 1774.8L1790.4 1774.7L1792.4 1774.7L1794.4 1774.6L1796.4 1774.6L1798.4 1774.6L1800.4 1774.5L1802.4 1774.5L1804.4 1774.5L1806.4 1774.4L1808.4 1774.4L1810.4 1774.4L1812.4 1774.3L1814.4 1774.3L1816.4 1774.3L1818.4 1774.3L1820.4 1774.3L1821.2 1774.3M1827.7 1774.3L1828.4 1774.3L1830.4 1774.2L1832.4 1774.2L1834.5 1774.1L1836.5 1774.0L1838.5 1773.9L1840.5 1773.8L1842.5 1773.7L1844.5 1773.6L1846.5 1773.5L1847.2 1773.4M1853.7 1773.2L1854.5 1773.2L1856.5 1773.1L1858.5 1773.1L1860.5 1773.1" stroke="#ff0000" stroke-width="9.6" fill="none" stroke-linejoin="round"/>
<rect x="1125.9" y="1890.6" width="645" height="156" fill="#fff" stroke="#606060" stroke-width="1.9"/>
<path d="M1137.7 1933.1999999999998h92" stroke="#0000ff" stroke-width="10" fill="none"/>
<path d="M1137.7 2004.0h92" stroke="#ff0000" stroke-width="10" stroke-dasharray="36 8 18 8" fill="none"/>
<text x="1238.1000000000001" y="1954.1" class="lg">Correct training data</text>
<text x="1238.1000000000001" y="2025.0" class="lg">Fitted data</text>
<text x="211.8" y="2963.4" text-anchor="middle" class="tk">0</text>
<text x="541.4" y="2963.4" text-anchor="middle" class="tk">20</text>
<text x="871.0" y="2963.4" text-anchor="middle" class="tk">40</text>
<text x="1200.7" y="2963.4" text-anchor="middle" class="tk">60</text>
<text x="1530.3" y="2963.4" text-anchor="middle" class="tk">80</text>
<text x="1859.9" y="2963.4" text-anchor="middle" class="tk">100</text>
<text x="1035.5" y="3050.8" text-anchor="middle" class="lb">Time (s)</text>
<text transform="translate(162 2311.5) rotate(-90)" class="lb">T<tspan dy="37" class="sb">L</tspan></text>
<path d="M183.9 2684.5L202.4 2719.5H188.20000000000002V2838H202.4L183.9 2873L165.4 2838H179.6V2719.5H165.4Z" fill="#000"/>
<text x="28.6" y="2795" class="an" textLength="126.5" lengthAdjust="spacingAndGlyphs">10°C</text>
<path d="M31.5 2789.2h11.3v6.6h-11.3zM47.9 2789.2h11v6.6h-11z" fill="#fff"/>
<text x="998.5" y="3157" text-anchor="middle" class="cp"><tspan dx="0.5">(</tspan><tspan class="cb" style="font-size:85px">d</tspan><tspan>)</tspan></text>
</g>
</svg>
</body>
</html>
